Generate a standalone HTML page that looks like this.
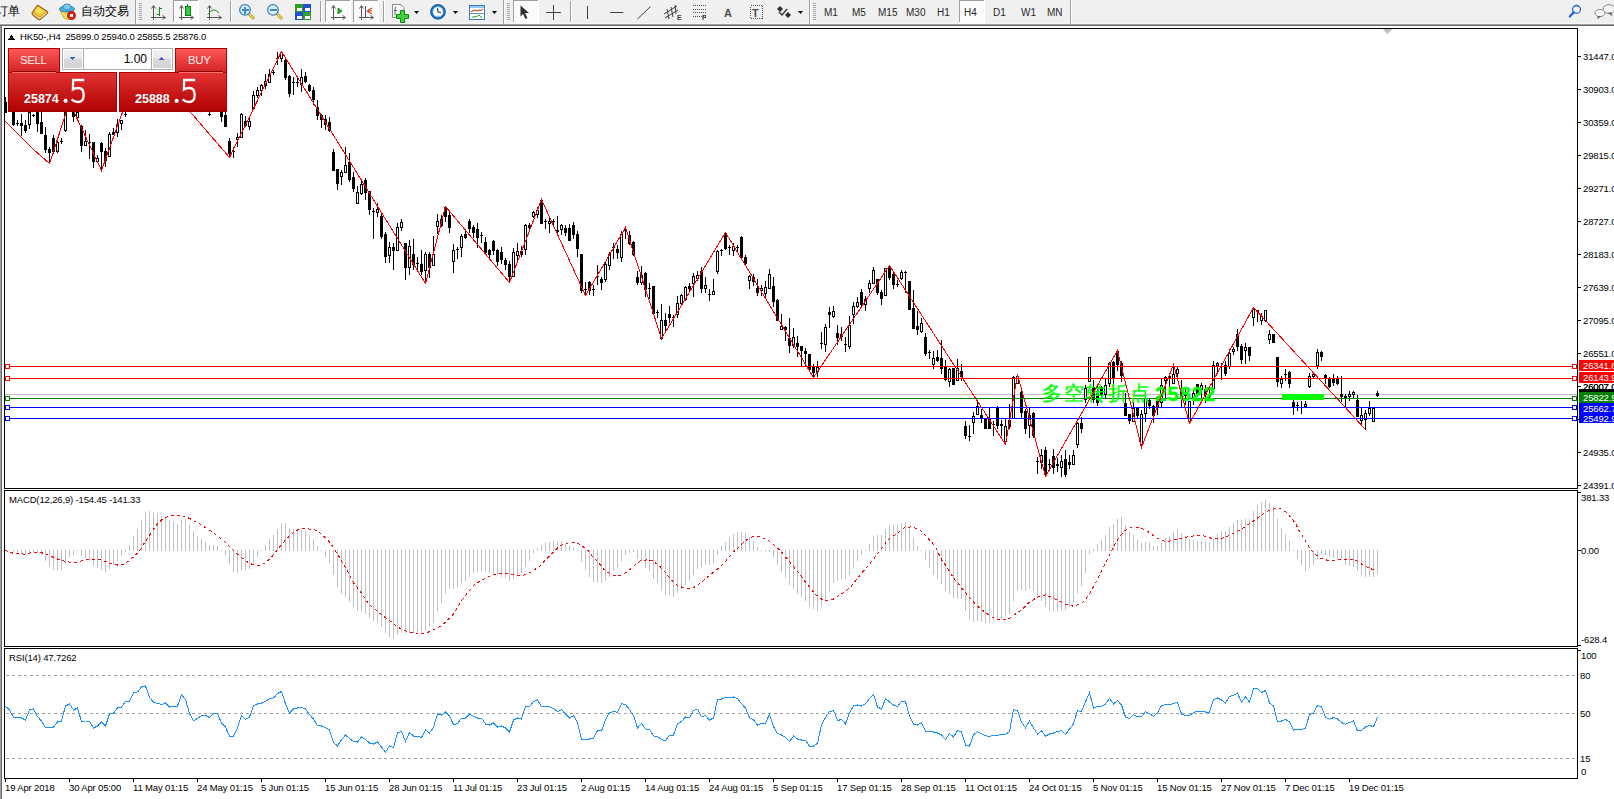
<!DOCTYPE html><html><head><meta charset="utf-8"><style>
html,body{margin:0;padding:0;width:1614px;height:799px;overflow:hidden;background:#fff}
svg{position:absolute;left:0;top:0}
text{font-family:"Liberation Sans",sans-serif}
.tb path,.tb circle,.tb ellipse,.tb line,.tb polygon{shape-rendering:auto}
</style></head><body>
<svg width="1614" height="799" viewBox="0 0 1614 799" shape-rendering="crispEdges">
<g class="tb">
<rect x="0" y="0" width="1614" height="24" fill="#f0f0f0"/>
<rect x="0" y="23" width="1614" height="1" fill="#f7f7f7"/>
<rect x="0" y="24" width="1614" height="1" fill="#a0a0a0"/>
<rect x="0" y="25" width="1614" height="1" fill="#696969"/>
<text x="-4.5" y="15" font-size="12" fill="#000" text-anchor="start">订单</text>
<path d="M37.5,5 L47.5,11.5 L47.8,13.2 L40,19.8 L38.5,19.8 L32,14.5 L32.2,12.6 Z" fill="#c88a18" stroke="#8a5008" stroke-width="0.9"/><path d="M37.6,6.2 L46.2,11.8 L39.6,16.8 L33.4,12.4 Z" fill="#f0c830"/><path d="M38,7 L44,11 L39.6,14 L35,11 Z" fill="#f8e060"/><path d="M33,13.6 L39.6,18.3 L46.8,12.6" fill="none" stroke="#f4e2a8" stroke-width="1.1"/>
<g transform="translate(59,4)"><path d="M1,7 L15,7 L9,16 L5,14 Z" fill="#f0e060" stroke="#c8a020" stroke-width="0.8"/><ellipse cx="8" cy="5" rx="7.5" ry="3" fill="#5ab0e0" stroke="#2a80b0" stroke-width="1"/><ellipse cx="8" cy="3" rx="4" ry="3" fill="#78c8f0" stroke="#2a80b0" stroke-width="0.8"/><circle cx="12.5" cy="11.5" r="4.2" fill="#e02010" stroke="#a01008" stroke-width="0.6"/><rect x="10.8" y="9.8" width="3.4" height="3.4" fill="#fff"/></g>
<text x="81" y="15" font-size="11.7" fill="#000" text-anchor="start">自动交易</text>
<rect x="135" y="0" width="1" height="24" fill="#a0a0a0"/>
<rect x="136" y="0" width="1" height="24" fill="#ffffff"/>
<rect x="139" y="3" width="3" height="1" fill="#a8a8a8"/>
<rect x="139" y="5" width="3" height="1" fill="#a8a8a8"/>
<rect x="139" y="7" width="3" height="1" fill="#a8a8a8"/>
<rect x="139" y="9" width="3" height="1" fill="#a8a8a8"/>
<rect x="139" y="11" width="3" height="1" fill="#a8a8a8"/>
<rect x="139" y="13" width="3" height="1" fill="#a8a8a8"/>
<rect x="139" y="15" width="3" height="1" fill="#a8a8a8"/>
<rect x="139" y="17" width="3" height="1" fill="#a8a8a8"/>
<rect x="139" y="19" width="3" height="1" fill="#a8a8a8"/>
<rect x="153" y="6" width="1" height="14" fill="#555"/>
<rect x="151" y="17" width="14" height="1" fill="#555"/>
<path d="M151.5,8.5 L153.5,5.5 L155.5,8.5" fill="none" stroke="#555" stroke-width="1"/>
<path d="M162.5,15.5 L165.5,17.5 L162.5,19.5" fill="none" stroke="#555" stroke-width="1"/>
<rect x="159" y="7" width="1" height="9" fill="#109010"/>
<rect x="157" y="14" width="2" height="1" fill="#109010"/>
<rect x="160" y="8" width="2" height="1" fill="#109010"/>
<rect x="173" y="0" width="25" height="22" fill="url(#chk)"/>
<rect x="173" y="0" width="25" height="1" fill="#a0a0a0"/>
<rect x="173" y="0" width="1" height="22" fill="#a0a0a0"/>
<rect x="198" y="0" width="1" height="23" fill="#ffffff"/>
<rect x="173" y="22" width="26" height="1" fill="#ffffff"/>
<rect x="181" y="6" width="1" height="14" fill="#555"/>
<rect x="179" y="17" width="14" height="1" fill="#555"/>
<path d="M179.5,8.5 L181.5,5.5 L183.5,8.5" fill="none" stroke="#555" stroke-width="1"/>
<path d="M190.5,15.5 L193.5,17.5 L190.5,19.5" fill="none" stroke="#555" stroke-width="1"/>
<rect x="187" y="4" width="1" height="12" fill="#108010"/>
<rect x="185" y="6" width="5" height="9" fill="#30d040" stroke="#108010" stroke-width="1"/>
<rect x="209" y="6" width="1" height="14" fill="#555"/>
<rect x="207" y="17" width="14" height="1" fill="#555"/>
<path d="M207.5,8.5 L209.5,5.5 L211.5,8.5" fill="none" stroke="#555" stroke-width="1"/>
<path d="M218.5,15.5 L221.5,17.5 L218.5,19.5" fill="none" stroke="#555" stroke-width="1"/>
<path d="M208,14.5 Q213,6 219,13" fill="none" stroke="#209020" stroke-width="1"/>
<rect x="230" y="1" width="1" height="21" fill="#a0a0a0"/>
<rect x="231" y="1" width="1" height="21" fill="#ffffff"/>
<line x1="248.5" y1="13.5" x2="254" y2="19" stroke="#c09010" stroke-width="3"/><line x1="248.5" y1="13.5" x2="254" y2="19" stroke="#f0d850" stroke-width="1.5"/>
<circle cx="245" cy="9.9" r="5.3" fill="#d8f0ff" stroke="#3a80c8" stroke-width="1.3"/>
<rect x="242" y="9" width="7" height="2" fill="#4a88b8"/>
<rect x="244" y="6.5" width="2" height="7" fill="#4a88b8"/>
<line x1="276.5" y1="13.5" x2="282" y2="19" stroke="#c09010" stroke-width="3"/><line x1="276.5" y1="13.5" x2="282" y2="19" stroke="#f0d850" stroke-width="1.5"/>
<circle cx="273" cy="9.9" r="5.3" fill="#d8f0ff" stroke="#3a80c8" stroke-width="1.3"/>
<rect x="270" y="9" width="7" height="2" fill="#4a88b8"/>
<g transform="translate(295,4)"><rect x="0" y="0" width="8" height="8" fill="#30a020"/><rect x="8" y="0" width="8" height="8" fill="#2050d0"/><rect x="0" y="8" width="8" height="8" fill="#2050d0"/><rect x="8" y="8" width="8" height="8" fill="#30a020"/><rect x="1.5" y="3.5" width="5" height="3.5" fill="#fff"/><rect x="9.5" y="3.5" width="5" height="3.5" fill="#fff"/><rect x="1.5" y="11.5" width="5" height="3.5" fill="#fff"/><rect x="9.5" y="11.5" width="5" height="3.5" fill="#fff"/></g>
<rect x="320" y="1" width="1" height="21" fill="#a0a0a0"/>
<rect x="321" y="1" width="1" height="21" fill="#ffffff"/>
<rect x="325" y="0" width="25" height="22" fill="url(#chk)"/>
<rect x="325" y="0" width="25" height="1" fill="#a0a0a0"/>
<rect x="325" y="0" width="1" height="22" fill="#a0a0a0"/>
<rect x="350" y="0" width="1" height="23" fill="#ffffff"/>
<rect x="325" y="22" width="26" height="1" fill="#ffffff"/>
<rect x="333" y="6" width="1" height="14" fill="#555"/>
<rect x="331" y="17" width="14" height="1" fill="#555"/>
<path d="M331.5,8.5 L333.5,5.5 L335.5,8.5" fill="none" stroke="#555" stroke-width="1"/>
<path d="M342.5,15.5 L345.5,17.5 L342.5,19.5" fill="none" stroke="#555" stroke-width="1"/>
<path d="M338,8 L342,11 L338,14 Z" fill="#20b030" stroke="#108010" stroke-width="0.8"/>
<rect x="353" y="0" width="25" height="22" fill="url(#chk)"/>
<rect x="353" y="0" width="25" height="1" fill="#a0a0a0"/>
<rect x="353" y="0" width="1" height="22" fill="#a0a0a0"/>
<rect x="378" y="0" width="1" height="23" fill="#ffffff"/>
<rect x="353" y="22" width="26" height="1" fill="#ffffff"/>
<rect x="361" y="6" width="1" height="14" fill="#555"/>
<rect x="359" y="17" width="14" height="1" fill="#555"/>
<path d="M359.5,8.5 L361.5,5.5 L363.5,8.5" fill="none" stroke="#555" stroke-width="1"/>
<path d="M370.5,15.5 L373.5,17.5 L370.5,19.5" fill="none" stroke="#555" stroke-width="1"/>
<rect x="365" y="6" width="1" height="11" fill="#2060a0"/>
<path d="M367,11 L372,8 M367,11 L372,14 M367,11 L372,11" stroke="#e04010" stroke-width="1.2"/>
<rect x="383" y="1" width="1" height="21" fill="#a0a0a0"/>
<rect x="384" y="1" width="1" height="21" fill="#ffffff"/>
<g transform="translate(392,4)"><path d="M0.5,0.5 L9,0.5 L12,3.5 L12,13.5 L0.5,13.5 Z" fill="#fbfbfb" stroke="#8a8a8a" stroke-width="1"/><path d="M4.5,3 Q3,3 3,5 L3,11 M2,6.5 L5,6.5" stroke="#505050" stroke-width="0.9" fill="none"/><path d="M8.5,6.5 L12.5,6.5 L12.5,10.5 L16.5,10.5 L16.5,14.5 L12.5,14.5 L12.5,18.5 L8.5,18.5 L8.5,14.5 L4.5,14.5 L4.5,10.5 L8.5,10.5 Z" fill="#40d040" stroke="#108810" stroke-width="1"/></g>
<path d="M414,11 L419,11 L416.5,14 Z" fill="#000"/>
<circle cx="438" cy="11.8" r="7.4" fill="#1a6fd0"/><circle cx="438" cy="11.8" r="7.4" fill="none" stroke="#0a4a98" stroke-width="0.8"/><circle cx="438" cy="11.8" r="5.2" fill="#f6f8fc" stroke="#7ab0e8" stroke-width="0.6"/><path d="M437.5,8 L438,12 L441,12.5" stroke="#303030" stroke-width="1.1" fill="none"/><circle cx="438" cy="16" r="0.6" fill="#4a90e0"/>
<path d="M453,11 L458,11 L455.5,14 Z" fill="#000"/>
<g transform="translate(469,5)"><rect x="0.5" y="0.5" width="15" height="14" fill="#fff" stroke="#3a78c8" stroke-width="1"/><rect x="1" y="1" width="14" height="2" fill="#9cc4f0"/><line x1="1" y1="8.5" x2="15" y2="8.5" stroke="#3a78c8" stroke-width="0.8"/><path d="M2,6.5 L4,6 L6,5 L8,6 L10,5 L12,5.5 L14,4" stroke="#b02808" fill="none" stroke-width="1"/><path d="M3,12.5 L5,11.5 L7,12 L10,10 L13,12.5" stroke="#20a020" fill="none" stroke-width="1"/></g>
<path d="M492,11 L497,11 L494.5,14 Z" fill="#000"/>
<rect x="503" y="0" width="1" height="24" fill="#a0a0a0"/>
<rect x="504" y="0" width="1" height="24" fill="#ffffff"/>
<rect x="507" y="3" width="3" height="1" fill="#a8a8a8"/>
<rect x="507" y="5" width="3" height="1" fill="#a8a8a8"/>
<rect x="507" y="7" width="3" height="1" fill="#a8a8a8"/>
<rect x="507" y="9" width="3" height="1" fill="#a8a8a8"/>
<rect x="507" y="11" width="3" height="1" fill="#a8a8a8"/>
<rect x="507" y="13" width="3" height="1" fill="#a8a8a8"/>
<rect x="507" y="15" width="3" height="1" fill="#a8a8a8"/>
<rect x="507" y="17" width="3" height="1" fill="#a8a8a8"/>
<rect x="507" y="19" width="3" height="1" fill="#a8a8a8"/>
<rect x="513" y="0" width="25" height="22" fill="url(#chk)"/>
<rect x="513" y="0" width="25" height="1" fill="#a0a0a0"/>
<rect x="513" y="0" width="1" height="22" fill="#a0a0a0"/>
<rect x="538" y="0" width="1" height="23" fill="#ffffff"/>
<rect x="513" y="22" width="26" height="1" fill="#ffffff"/>
<path d="M520.5,5.5 L520.5,16.5 L523,14 L525.5,19 L527.5,18 L525,13 L529,13 Z" fill="#303030"/>
<rect x="553" y="5" width="1" height="15" fill="#404040"/>
<rect x="546" y="12" width="15" height="1" fill="#404040"/>
<rect x="570" y="1" width="1" height="21" fill="#a0a0a0"/>
<rect x="571" y="1" width="1" height="21" fill="#ffffff"/>
<rect x="587" y="6" width="1" height="13" fill="#404040"/>
<rect x="610" y="12" width="13" height="1" fill="#404040"/>
<line x1="637.5" y1="19" x2="650.5" y2="6.5" stroke="#404040" stroke-width="1"/>
<g stroke="#404040" stroke-width="1" fill="none"><line x1="664" y1="14" x2="677" y2="6"/><line x1="665" y1="18" x2="678" y2="10"/><line x1="667" y1="9" x2="669" y2="19"/><line x1="671" y1="7" x2="673" y2="17"/><line x1="675" y1="5" x2="676" y2="14"/></g>
<text x="677" y="20" font-size="7" fill="#404040" text-anchor="start" letter-spacing="-0.15" font-weight="bold">E</text>
<line x1="693" y1="5.5" x2="706" y2="5.5" stroke="#505050" stroke-width="1" stroke-dasharray="1,1"/>
<line x1="693" y1="9.5" x2="706" y2="9.5" stroke="#505050" stroke-width="1" stroke-dasharray="1,1"/>
<line x1="693" y1="12.5" x2="706" y2="12.5" stroke="#505050" stroke-width="1" stroke-dasharray="1,1"/>
<line x1="693" y1="16.5" x2="706" y2="16.5" stroke="#505050" stroke-width="1" stroke-dasharray="1,1"/>
<text x="702" y="20" font-size="7" fill="#404040" text-anchor="start" letter-spacing="-0.15" font-weight="bold">F</text>
<text x="724" y="17" font-size="11" fill="#505050" text-anchor="start" font-weight="bold">A</text>
<rect x="750.5" y="5.5" width="12" height="13" fill="none" stroke="#505050" stroke-width="1" stroke-dasharray="1,1"/>
<text x="752" y="17" font-size="11" fill="#505050" text-anchor="start" font-weight="bold">T</text>
<path d="M777,9 L780,6 L783,9 L780,12 Z" fill="#303030"/><path d="M785,15 L788,12 L791,15 L788,18 Z" fill="#303030"/><path d="M779,12 L782,15 L787,9" stroke="#303030" stroke-width="1.3" fill="none"/>
<path d="M798,11 L803,11 L800.5,14 Z" fill="#000"/>
<rect x="809" y="0" width="1" height="24" fill="#a0a0a0"/>
<rect x="810" y="0" width="1" height="24" fill="#ffffff"/>
<rect x="813" y="3" width="3" height="1" fill="#a8a8a8"/>
<rect x="813" y="5" width="3" height="1" fill="#a8a8a8"/>
<rect x="813" y="7" width="3" height="1" fill="#a8a8a8"/>
<rect x="813" y="9" width="3" height="1" fill="#a8a8a8"/>
<rect x="813" y="11" width="3" height="1" fill="#a8a8a8"/>
<rect x="813" y="13" width="3" height="1" fill="#a8a8a8"/>
<rect x="813" y="15" width="3" height="1" fill="#a8a8a8"/>
<rect x="813" y="17" width="3" height="1" fill="#a8a8a8"/>
<rect x="813" y="19" width="3" height="1" fill="#a8a8a8"/>
<text x="824" y="16" font-size="10" fill="#2a2a2a" text-anchor="start">M1</text>
<text x="852" y="16" font-size="10" fill="#2a2a2a" text-anchor="start">M5</text>
<text x="878" y="16" font-size="10" fill="#2a2a2a" text-anchor="start">M15</text>
<text x="906" y="16" font-size="10" fill="#2a2a2a" text-anchor="start">M30</text>
<text x="937" y="16" font-size="10" fill="#2a2a2a" text-anchor="start">H1</text>
<rect x="959" y="0" width="25" height="22" fill="url(#chk)"/>
<rect x="959" y="0" width="25" height="1" fill="#a0a0a0"/>
<rect x="959" y="0" width="1" height="22" fill="#a0a0a0"/>
<rect x="984" y="0" width="1" height="23" fill="#ffffff"/>
<rect x="959" y="22" width="26" height="1" fill="#ffffff"/>
<text x="964" y="16" font-size="10" fill="#2a2a2a" text-anchor="start">H4</text>
<text x="993" y="16" font-size="10" fill="#2a2a2a" text-anchor="start">D1</text>
<text x="1021" y="16" font-size="10" fill="#2a2a2a" text-anchor="start">W1</text>
<text x="1047" y="16" font-size="10" fill="#2a2a2a" text-anchor="start">MN</text>
<rect x="1070" y="0" width="1" height="24" fill="#a0a0a0"/>
<rect x="1071" y="0" width="1" height="24" fill="#ffffff"/>
<circle cx="1576.5" cy="9.4" r="3.9" fill="#f8f8ff" stroke="#2060d0" stroke-width="1.3"/><line x1="1573.8" y1="12.2" x2="1569.8" y2="16.5" stroke="#2060d0" stroke-width="2.2" stroke-linecap="round"/>
<ellipse cx="1609" cy="9" rx="6" ry="4.3" fill="#f4f4f8" stroke="#8a8a8a" stroke-width="1"/><path d="M1611,12.5 L1612,15.5 L1608,13" fill="#555" stroke="#777" stroke-width="0.8"/><ellipse cx="1600" cy="13" rx="5" ry="3.6" fill="#f4f4f8" stroke="#8a8a8a" stroke-width="1"/><path d="M1598,16 L1597.5,18.5 L1601,16.3" fill="#555" stroke="#777" stroke-width="0.8"/>
</g>
<rect x="0" y="26" width="2" height="799" fill="#a0a0a0"/>
<rect x="1" y="26" width="1" height="799" fill="#696969"/>
<rect x="4" y="28" width="1574" height="1" fill="#000"/>
<rect x="4" y="488" width="1574" height="1" fill="#000"/>
<rect x="4" y="28" width="1" height="461" fill="#000"/>
<rect x="1577" y="28" width="1" height="461" fill="#000"/>
<rect x="4" y="490" width="1574" height="1" fill="#000"/>
<rect x="4" y="646" width="1574" height="1" fill="#000"/>
<rect x="4" y="490" width="1" height="157" fill="#000"/>
<rect x="1577" y="490" width="1" height="157" fill="#000"/>
<rect x="4" y="648" width="1574" height="1" fill="#000"/>
<rect x="4" y="778" width="1574" height="1" fill="#000"/>
<rect x="4" y="648" width="1" height="131" fill="#000"/>
<rect x="1577" y="648" width="1" height="131" fill="#000"/>
<rect x="1578" y="56" width="3" height="1" fill="#000"/>
<text x="1583" y="60" font-size="9.5" fill="#000" text-anchor="start" letter-spacing="-0.15">31447.0</text>
<rect x="1578" y="89" width="3" height="1" fill="#000"/>
<text x="1583" y="93" font-size="9.5" fill="#000" text-anchor="start" letter-spacing="-0.15">30903.0</text>
<rect x="1578" y="122" width="3" height="1" fill="#000"/>
<text x="1583" y="126" font-size="9.5" fill="#000" text-anchor="start" letter-spacing="-0.15">30359.0</text>
<rect x="1578" y="155" width="3" height="1" fill="#000"/>
<text x="1583" y="159" font-size="9.5" fill="#000" text-anchor="start" letter-spacing="-0.15">29815.0</text>
<rect x="1578" y="188" width="3" height="1" fill="#000"/>
<text x="1583" y="192" font-size="9.5" fill="#000" text-anchor="start" letter-spacing="-0.15">29271.0</text>
<rect x="1578" y="221" width="3" height="1" fill="#000"/>
<text x="1583" y="225" font-size="9.5" fill="#000" text-anchor="start" letter-spacing="-0.15">28727.0</text>
<rect x="1578" y="254" width="3" height="1" fill="#000"/>
<text x="1583" y="258" font-size="9.5" fill="#000" text-anchor="start" letter-spacing="-0.15">28183.0</text>
<rect x="1578" y="287" width="3" height="1" fill="#000"/>
<text x="1583" y="291" font-size="9.5" fill="#000" text-anchor="start" letter-spacing="-0.15">27639.0</text>
<rect x="1578" y="320" width="3" height="1" fill="#000"/>
<text x="1583" y="324" font-size="9.5" fill="#000" text-anchor="start" letter-spacing="-0.15">27095.0</text>
<rect x="1578" y="353" width="3" height="1" fill="#000"/>
<text x="1583" y="357" font-size="9.5" fill="#000" text-anchor="start" letter-spacing="-0.15">26551.0</text>
<rect x="1578" y="386" width="3" height="1" fill="#000"/>
<text x="1583" y="390" font-size="9.5" fill="#000" text-anchor="start" letter-spacing="-0.15">26007.0</text>
<rect x="1578" y="419" width="3" height="1" fill="#000"/>
<text x="1583" y="423" font-size="9.5" fill="#000" text-anchor="start" letter-spacing="-0.15">25463.0</text>
<rect x="1578" y="452" width="3" height="1" fill="#000"/>
<text x="1583" y="456" font-size="9.5" fill="#000" text-anchor="start" letter-spacing="-0.15">24935.0</text>
<rect x="1578" y="485" width="3" height="1" fill="#000"/>
<text x="1583" y="489" font-size="9.5" fill="#000" text-anchor="start" letter-spacing="-0.15">24391.0</text>
<rect x="1578" y="492" width="3" height="1" fill="#000"/>
<text x="1581" y="501" font-size="9.5" fill="#000" text-anchor="start" letter-spacing="-0.15">381.33</text>
<rect x="1578" y="550" width="3" height="1" fill="#000"/>
<text x="1581" y="554" font-size="9.5" fill="#000" text-anchor="start" letter-spacing="-0.15">0.00</text>
<rect x="1578" y="645" width="3" height="1" fill="#000"/>
<text x="1581" y="643" font-size="9.5" fill="#000" text-anchor="start" letter-spacing="-0.15">-628.4</text>
<rect x="1578" y="650" width="3" height="1" fill="#000"/>
<text x="1581" y="659" font-size="9.5" fill="#000" text-anchor="start" letter-spacing="-0.15">100</text>
<text x="1580" y="679" font-size="9.5" fill="#000" text-anchor="start" letter-spacing="-0.15">80</text>
<text x="1580" y="717" font-size="9.5" fill="#000" text-anchor="start" letter-spacing="-0.15">50</text>
<text x="1580" y="762" font-size="9.5" fill="#000" text-anchor="start" letter-spacing="-0.15">15</text>
<text x="1581" y="775" font-size="9.5" fill="#000" text-anchor="start" letter-spacing="-0.15">0</text>
<rect x="5" y="779" width="1" height="3" fill="#000"/>
<text x="5" y="791" font-size="9.5" fill="#000" text-anchor="start" letter-spacing="-0.15">19 Apr 2018</text>
<rect x="69" y="779" width="1" height="3" fill="#000"/>
<text x="69" y="791" font-size="9.5" fill="#000" text-anchor="start" letter-spacing="-0.15">30 Apr 05:00</text>
<rect x="133" y="779" width="1" height="3" fill="#000"/>
<text x="133" y="791" font-size="9.5" fill="#000" text-anchor="start" letter-spacing="-0.15">11 May 01:15</text>
<rect x="197" y="779" width="1" height="3" fill="#000"/>
<text x="197" y="791" font-size="9.5" fill="#000" text-anchor="start" letter-spacing="-0.15">24 May 01:15</text>
<rect x="261" y="779" width="1" height="3" fill="#000"/>
<text x="261" y="791" font-size="9.5" fill="#000" text-anchor="start" letter-spacing="-0.15">5 Jun 01:15</text>
<rect x="325" y="779" width="1" height="3" fill="#000"/>
<text x="325" y="791" font-size="9.5" fill="#000" text-anchor="start" letter-spacing="-0.15">15 Jun 01:15</text>
<rect x="389" y="779" width="1" height="3" fill="#000"/>
<text x="389" y="791" font-size="9.5" fill="#000" text-anchor="start" letter-spacing="-0.15">28 Jun 01:15</text>
<rect x="453" y="779" width="1" height="3" fill="#000"/>
<text x="453" y="791" font-size="9.5" fill="#000" text-anchor="start" letter-spacing="-0.15">11 Jul 01:15</text>
<rect x="517" y="779" width="1" height="3" fill="#000"/>
<text x="517" y="791" font-size="9.5" fill="#000" text-anchor="start" letter-spacing="-0.15">23 Jul 01:15</text>
<rect x="581" y="779" width="1" height="3" fill="#000"/>
<text x="581" y="791" font-size="9.5" fill="#000" text-anchor="start" letter-spacing="-0.15">2 Aug 01:15</text>
<rect x="645" y="779" width="1" height="3" fill="#000"/>
<text x="645" y="791" font-size="9.5" fill="#000" text-anchor="start" letter-spacing="-0.15">14 Aug 01:15</text>
<rect x="709" y="779" width="1" height="3" fill="#000"/>
<text x="709" y="791" font-size="9.5" fill="#000" text-anchor="start" letter-spacing="-0.15">24 Aug 01:15</text>
<rect x="773" y="779" width="1" height="3" fill="#000"/>
<text x="773" y="791" font-size="9.5" fill="#000" text-anchor="start" letter-spacing="-0.15">5 Sep 01:15</text>
<rect x="837" y="779" width="1" height="3" fill="#000"/>
<text x="837" y="791" font-size="9.5" fill="#000" text-anchor="start" letter-spacing="-0.15">17 Sep 01:15</text>
<rect x="901" y="779" width="1" height="3" fill="#000"/>
<text x="901" y="791" font-size="9.5" fill="#000" text-anchor="start" letter-spacing="-0.15">28 Sep 01:15</text>
<rect x="965" y="779" width="1" height="3" fill="#000"/>
<text x="965" y="791" font-size="9.5" fill="#000" text-anchor="start" letter-spacing="-0.15">11 Oct 01:15</text>
<rect x="1029" y="779" width="1" height="3" fill="#000"/>
<text x="1029" y="791" font-size="9.5" fill="#000" text-anchor="start" letter-spacing="-0.15">24 Oct 01:15</text>
<rect x="1093" y="779" width="1" height="3" fill="#000"/>
<text x="1093" y="791" font-size="9.5" fill="#000" text-anchor="start" letter-spacing="-0.15">5 Nov 01:15</text>
<rect x="1157" y="779" width="1" height="3" fill="#000"/>
<text x="1157" y="791" font-size="9.5" fill="#000" text-anchor="start" letter-spacing="-0.15">15 Nov 01:15</text>
<rect x="1221" y="779" width="1" height="3" fill="#000"/>
<text x="1221" y="791" font-size="9.5" fill="#000" text-anchor="start" letter-spacing="-0.15">27 Nov 01:15</text>
<rect x="1285" y="779" width="1" height="3" fill="#000"/>
<text x="1285" y="791" font-size="9.5" fill="#000" text-anchor="start" letter-spacing="-0.15">7 Dec 01:15</text>
<rect x="1349" y="779" width="1" height="3" fill="#000"/>
<text x="1349" y="791" font-size="9.5" fill="#000" text-anchor="start" letter-spacing="-0.15">19 Dec 01:15</text>
<svg x="5" y="29" width="1572" height="459" viewBox="5 29 1572 459" overflow="hidden">
<rect x="5" y="394" width="1572" height="1" fill="#c0c0c0"/>
<rect x="5" y="97" width="1" height="16" fill="#000"/>
<rect x="4" y="102" width="3" height="11" fill="#000"/>
<rect x="13" y="112" width="1" height="14" fill="#000"/>
<rect x="12" y="112" width="3" height="13" fill="#000"/>
<rect x="17" y="120" width="1" height="6" fill="#000"/>
<rect x="16" y="123" width="3" height="1" fill="#000"/>
<rect x="21" y="114" width="1" height="22" fill="#000"/>
<rect x="20" y="123" width="3" height="3" fill="#000"/>
<rect x="25" y="120" width="1" height="13" fill="#000"/>
<rect x="24" y="125" width="3" height="6" fill="#000"/>
<rect x="29" y="112" width="1" height="17" fill="#000"/>
<rect x="28" y="112" width="3" height="13" fill="#000"/>
<rect x="29" y="113" width="1" height="11" fill="#fff"/>
<rect x="33" y="114" width="1" height="3" fill="#000"/>
<rect x="32" y="115" width="3" height="1" fill="#000"/>
<rect x="37" y="112" width="1" height="20" fill="#000"/>
<rect x="36" y="112" width="3" height="12" fill="#000"/>
<rect x="41" y="112" width="1" height="22" fill="#000"/>
<rect x="40" y="122" width="3" height="12" fill="#000"/>
<rect x="45" y="127" width="1" height="26" fill="#000"/>
<rect x="44" y="135" width="3" height="15" fill="#000"/>
<rect x="49" y="147" width="1" height="17" fill="#000"/>
<rect x="48" y="149" width="3" height="4" fill="#000"/>
<rect x="53" y="135" width="1" height="19" fill="#000"/>
<rect x="52" y="138" width="3" height="14" fill="#000"/>
<rect x="57" y="140" width="1" height="13" fill="#000"/>
<rect x="56" y="142" width="3" height="10" fill="#000"/>
<rect x="57" y="143" width="1" height="8" fill="#fff"/>
<rect x="61" y="138" width="1" height="6" fill="#000"/>
<rect x="60" y="141" width="3" height="1" fill="#000"/>
<rect x="65" y="112" width="1" height="20" fill="#000"/>
<rect x="64" y="112" width="3" height="19" fill="#000"/>
<rect x="65" y="113" width="1" height="17" fill="#fff"/>
<rect x="73" y="112" width="1" height="10" fill="#000"/>
<rect x="72" y="112" width="3" height="5" fill="#000"/>
<rect x="77" y="112" width="1" height="7" fill="#000"/>
<rect x="76" y="112" width="3" height="6" fill="#000"/>
<rect x="77" y="113" width="1" height="4" fill="#fff"/>
<rect x="81" y="125" width="1" height="27" fill="#000"/>
<rect x="80" y="126" width="3" height="20" fill="#000"/>
<rect x="85" y="130" width="1" height="16" fill="#000"/>
<rect x="84" y="141" width="3" height="5" fill="#000"/>
<rect x="85" y="142" width="1" height="3" fill="#fff"/>
<rect x="89" y="134" width="1" height="25" fill="#000"/>
<rect x="88" y="142" width="3" height="1" fill="#000"/>
<rect x="93" y="142" width="1" height="26" fill="#000"/>
<rect x="92" y="142" width="3" height="20" fill="#000"/>
<rect x="97" y="155" width="1" height="7" fill="#000"/>
<rect x="96" y="158" width="3" height="4" fill="#000"/>
<rect x="97" y="159" width="1" height="2" fill="#fff"/>
<rect x="101" y="142" width="1" height="29" fill="#000"/>
<rect x="100" y="143" width="3" height="9" fill="#000"/>
<rect x="105" y="148" width="1" height="19" fill="#000"/>
<rect x="104" y="151" width="3" height="10" fill="#000"/>
<rect x="109" y="132" width="1" height="25" fill="#000"/>
<rect x="108" y="134" width="3" height="23" fill="#000"/>
<rect x="109" y="135" width="1" height="21" fill="#fff"/>
<rect x="113" y="128" width="1" height="7" fill="#000"/>
<rect x="112" y="132" width="3" height="3" fill="#000"/>
<rect x="117" y="119" width="1" height="18" fill="#000"/>
<rect x="116" y="124" width="3" height="9" fill="#000"/>
<rect x="117" y="125" width="1" height="7" fill="#fff"/>
<rect x="121" y="120" width="1" height="10" fill="#000"/>
<rect x="120" y="120" width="3" height="4" fill="#000"/>
<rect x="121" y="121" width="1" height="2" fill="#fff"/>
<rect x="125" y="112" width="1" height="5" fill="#000"/>
<rect x="124" y="114" width="3" height="1" fill="#000"/>
<rect x="209" y="112" width="1" height="4" fill="#000"/>
<rect x="208" y="114" width="3" height="1" fill="#000"/>
<rect x="221" y="112" width="1" height="10" fill="#000"/>
<rect x="220" y="112" width="3" height="5" fill="#000"/>
<rect x="225" y="112" width="1" height="15" fill="#000"/>
<rect x="224" y="115" width="3" height="12" fill="#000"/>
<rect x="229" y="138" width="1" height="20" fill="#000"/>
<rect x="228" y="141" width="3" height="13" fill="#000"/>
<rect x="233" y="147" width="1" height="11" fill="#000"/>
<rect x="232" y="151" width="3" height="1" fill="#000"/>
<rect x="237" y="133" width="1" height="14" fill="#000"/>
<rect x="236" y="137" width="3" height="3" fill="#000"/>
<rect x="237" y="138" width="1" height="1" fill="#fff"/>
<rect x="241" y="113" width="1" height="25" fill="#000"/>
<rect x="240" y="114" width="3" height="24" fill="#000"/>
<rect x="241" y="115" width="1" height="22" fill="#fff"/>
<rect x="245" y="116" width="1" height="11" fill="#000"/>
<rect x="244" y="121" width="3" height="5" fill="#000"/>
<rect x="249" y="117" width="1" height="13" fill="#000"/>
<rect x="248" y="121" width="3" height="6" fill="#000"/>
<rect x="249" y="122" width="1" height="4" fill="#fff"/>
<rect x="253" y="91" width="1" height="18" fill="#000"/>
<rect x="252" y="95" width="3" height="14" fill="#000"/>
<rect x="253" y="96" width="1" height="12" fill="#fff"/>
<rect x="257" y="87" width="1" height="11" fill="#000"/>
<rect x="256" y="90" width="3" height="6" fill="#000"/>
<rect x="257" y="91" width="1" height="4" fill="#fff"/>
<rect x="261" y="84" width="1" height="12" fill="#000"/>
<rect x="260" y="85" width="3" height="6" fill="#000"/>
<rect x="261" y="86" width="1" height="4" fill="#fff"/>
<rect x="265" y="74" width="1" height="15" fill="#000"/>
<rect x="264" y="81" width="3" height="5" fill="#000"/>
<rect x="265" y="82" width="1" height="3" fill="#fff"/>
<rect x="269" y="69" width="1" height="14" fill="#000"/>
<rect x="268" y="74" width="3" height="9" fill="#000"/>
<rect x="269" y="75" width="1" height="7" fill="#fff"/>
<rect x="273" y="70" width="1" height="5" fill="#000"/>
<rect x="272" y="72" width="3" height="1" fill="#000"/>
<rect x="277" y="52" width="1" height="13" fill="#000"/>
<rect x="276" y="58" width="3" height="1" fill="#000"/>
<rect x="281" y="51" width="1" height="11" fill="#000"/>
<rect x="280" y="52" width="3" height="7" fill="#000"/>
<rect x="281" y="53" width="1" height="5" fill="#fff"/>
<rect x="285" y="59" width="1" height="21" fill="#000"/>
<rect x="284" y="60" width="3" height="18" fill="#000"/>
<rect x="289" y="75" width="1" height="22" fill="#000"/>
<rect x="288" y="76" width="3" height="18" fill="#000"/>
<rect x="293" y="77" width="1" height="18" fill="#000"/>
<rect x="292" y="82" width="3" height="1" fill="#000"/>
<rect x="297" y="78" width="1" height="9" fill="#000"/>
<rect x="296" y="82" width="3" height="1" fill="#000"/>
<rect x="301" y="69" width="1" height="23" fill="#000"/>
<rect x="300" y="77" width="3" height="8" fill="#000"/>
<rect x="301" y="78" width="1" height="6" fill="#fff"/>
<rect x="305" y="72" width="1" height="11" fill="#000"/>
<rect x="304" y="76" width="3" height="6" fill="#000"/>
<rect x="309" y="84" width="1" height="8" fill="#000"/>
<rect x="308" y="85" width="3" height="6" fill="#000"/>
<rect x="313" y="87" width="1" height="18" fill="#000"/>
<rect x="312" y="90" width="3" height="10" fill="#000"/>
<rect x="317" y="100" width="1" height="20" fill="#000"/>
<rect x="316" y="107" width="3" height="9" fill="#000"/>
<rect x="321" y="114" width="1" height="14" fill="#000"/>
<rect x="320" y="115" width="3" height="5" fill="#000"/>
<rect x="325" y="115" width="1" height="15" fill="#000"/>
<rect x="324" y="119" width="3" height="6" fill="#000"/>
<rect x="329" y="117" width="1" height="15" fill="#000"/>
<rect x="328" y="122" width="3" height="9" fill="#000"/>
<rect x="333" y="149" width="1" height="22" fill="#000"/>
<rect x="332" y="152" width="3" height="19" fill="#000"/>
<rect x="337" y="169" width="1" height="21" fill="#000"/>
<rect x="336" y="169" width="3" height="15" fill="#000"/>
<rect x="341" y="170" width="1" height="15" fill="#000"/>
<rect x="340" y="172" width="3" height="5" fill="#000"/>
<rect x="341" y="173" width="1" height="3" fill="#fff"/>
<rect x="345" y="147" width="1" height="26" fill="#000"/>
<rect x="344" y="165" width="3" height="8" fill="#000"/>
<rect x="345" y="166" width="1" height="6" fill="#fff"/>
<rect x="349" y="153" width="1" height="29" fill="#000"/>
<rect x="348" y="162" width="3" height="18" fill="#000"/>
<rect x="353" y="172" width="1" height="20" fill="#000"/>
<rect x="352" y="177" width="3" height="12" fill="#000"/>
<rect x="357" y="186" width="1" height="18" fill="#000"/>
<rect x="356" y="192" width="3" height="12" fill="#000"/>
<rect x="357" y="193" width="1" height="10" fill="#fff"/>
<rect x="361" y="180" width="1" height="15" fill="#000"/>
<rect x="360" y="184" width="3" height="10" fill="#000"/>
<rect x="361" y="185" width="1" height="8" fill="#fff"/>
<rect x="365" y="178" width="1" height="22" fill="#000"/>
<rect x="364" y="180" width="3" height="13" fill="#000"/>
<rect x="369" y="191" width="1" height="24" fill="#000"/>
<rect x="368" y="191" width="3" height="19" fill="#000"/>
<rect x="373" y="208" width="1" height="31" fill="#000"/>
<rect x="372" y="211" width="3" height="1" fill="#000"/>
<rect x="377" y="203" width="1" height="14" fill="#000"/>
<rect x="376" y="209" width="3" height="4" fill="#000"/>
<rect x="377" y="210" width="1" height="2" fill="#fff"/>
<rect x="381" y="213" width="1" height="26" fill="#000"/>
<rect x="380" y="216" width="3" height="21" fill="#000"/>
<rect x="385" y="232" width="1" height="31" fill="#000"/>
<rect x="384" y="234" width="3" height="23" fill="#000"/>
<rect x="389" y="242" width="1" height="21" fill="#000"/>
<rect x="388" y="247" width="3" height="9" fill="#000"/>
<rect x="389" y="248" width="1" height="7" fill="#fff"/>
<rect x="393" y="243" width="1" height="27" fill="#000"/>
<rect x="392" y="247" width="3" height="4" fill="#000"/>
<rect x="397" y="223" width="1" height="28" fill="#000"/>
<rect x="396" y="227" width="3" height="24" fill="#000"/>
<rect x="397" y="228" width="1" height="22" fill="#fff"/>
<rect x="401" y="219" width="1" height="12" fill="#000"/>
<rect x="400" y="222" width="3" height="6" fill="#000"/>
<rect x="401" y="223" width="1" height="4" fill="#fff"/>
<rect x="405" y="243" width="1" height="37" fill="#000"/>
<rect x="404" y="243" width="3" height="25" fill="#000"/>
<rect x="409" y="240" width="1" height="35" fill="#000"/>
<rect x="408" y="246" width="3" height="22" fill="#000"/>
<rect x="409" y="247" width="1" height="20" fill="#fff"/>
<rect x="413" y="239" width="1" height="31" fill="#000"/>
<rect x="412" y="254" width="3" height="11" fill="#000"/>
<rect x="417" y="257" width="1" height="13" fill="#000"/>
<rect x="416" y="263" width="3" height="1" fill="#000"/>
<rect x="421" y="250" width="1" height="25" fill="#000"/>
<rect x="420" y="264" width="3" height="8" fill="#000"/>
<rect x="425" y="252" width="1" height="32" fill="#000"/>
<rect x="424" y="254" width="3" height="17" fill="#000"/>
<rect x="425" y="255" width="1" height="15" fill="#fff"/>
<rect x="429" y="252" width="1" height="26" fill="#000"/>
<rect x="428" y="254" width="3" height="14" fill="#000"/>
<rect x="433" y="236" width="1" height="30" fill="#000"/>
<rect x="432" y="254" width="3" height="12" fill="#000"/>
<rect x="433" y="255" width="1" height="10" fill="#fff"/>
<rect x="437" y="214" width="1" height="20" fill="#000"/>
<rect x="436" y="221" width="3" height="6" fill="#000"/>
<rect x="437" y="222" width="1" height="4" fill="#fff"/>
<rect x="441" y="215" width="1" height="12" fill="#000"/>
<rect x="440" y="219" width="3" height="7" fill="#000"/>
<rect x="445" y="206" width="1" height="16" fill="#000"/>
<rect x="444" y="207" width="3" height="10" fill="#000"/>
<rect x="449" y="212" width="1" height="21" fill="#000"/>
<rect x="448" y="215" width="3" height="13" fill="#000"/>
<rect x="453" y="244" width="1" height="29" fill="#000"/>
<rect x="452" y="250" width="3" height="12" fill="#000"/>
<rect x="453" y="251" width="1" height="10" fill="#fff"/>
<rect x="457" y="247" width="1" height="12" fill="#000"/>
<rect x="456" y="249" width="3" height="1" fill="#000"/>
<rect x="461" y="234" width="1" height="23" fill="#000"/>
<rect x="460" y="236" width="3" height="12" fill="#000"/>
<rect x="461" y="237" width="1" height="10" fill="#fff"/>
<rect x="465" y="229" width="1" height="10" fill="#000"/>
<rect x="464" y="234" width="3" height="4" fill="#000"/>
<rect x="469" y="219" width="1" height="14" fill="#000"/>
<rect x="468" y="221" width="3" height="8" fill="#000"/>
<rect x="473" y="225" width="1" height="13" fill="#000"/>
<rect x="472" y="227" width="3" height="6" fill="#000"/>
<rect x="477" y="223" width="1" height="25" fill="#000"/>
<rect x="476" y="229" width="3" height="9" fill="#000"/>
<rect x="481" y="232" width="1" height="11" fill="#000"/>
<rect x="480" y="235" width="3" height="1" fill="#000"/>
<rect x="485" y="237" width="1" height="18" fill="#000"/>
<rect x="484" y="242" width="3" height="11" fill="#000"/>
<rect x="489" y="249" width="1" height="9" fill="#000"/>
<rect x="488" y="250" width="3" height="5" fill="#000"/>
<rect x="493" y="240" width="1" height="15" fill="#000"/>
<rect x="492" y="241" width="3" height="10" fill="#000"/>
<rect x="497" y="249" width="1" height="17" fill="#000"/>
<rect x="496" y="250" width="3" height="12" fill="#000"/>
<rect x="501" y="247" width="1" height="17" fill="#000"/>
<rect x="500" y="252" width="3" height="8" fill="#000"/>
<rect x="505" y="258" width="1" height="12" fill="#000"/>
<rect x="504" y="260" width="3" height="5" fill="#000"/>
<rect x="509" y="261" width="1" height="22" fill="#000"/>
<rect x="508" y="264" width="3" height="13" fill="#000"/>
<rect x="513" y="248" width="1" height="29" fill="#000"/>
<rect x="512" y="252" width="3" height="25" fill="#000"/>
<rect x="513" y="253" width="1" height="23" fill="#fff"/>
<rect x="517" y="243" width="1" height="17" fill="#000"/>
<rect x="516" y="251" width="3" height="5" fill="#000"/>
<rect x="517" y="252" width="1" height="3" fill="#fff"/>
<rect x="521" y="246" width="1" height="11" fill="#000"/>
<rect x="520" y="251" width="3" height="4" fill="#000"/>
<rect x="525" y="224" width="1" height="31" fill="#000"/>
<rect x="524" y="225" width="3" height="25" fill="#000"/>
<rect x="525" y="226" width="1" height="23" fill="#fff"/>
<rect x="529" y="223" width="1" height="6" fill="#000"/>
<rect x="528" y="225" width="3" height="3" fill="#000"/>
<rect x="533" y="211" width="1" height="7" fill="#000"/>
<rect x="532" y="212" width="3" height="5" fill="#000"/>
<rect x="533" y="213" width="1" height="3" fill="#fff"/>
<rect x="537" y="207" width="1" height="11" fill="#000"/>
<rect x="536" y="210" width="3" height="5" fill="#000"/>
<rect x="537" y="211" width="1" height="3" fill="#fff"/>
<rect x="541" y="199" width="1" height="25" fill="#000"/>
<rect x="540" y="200" width="3" height="24" fill="#000"/>
<rect x="545" y="219" width="1" height="10" fill="#000"/>
<rect x="544" y="221" width="3" height="1" fill="#000"/>
<rect x="549" y="217" width="1" height="16" fill="#000"/>
<rect x="548" y="221" width="3" height="3" fill="#000"/>
<rect x="549" y="222" width="1" height="1" fill="#fff"/>
<rect x="553" y="219" width="1" height="6" fill="#000"/>
<rect x="552" y="221" width="3" height="1" fill="#000"/>
<rect x="557" y="216" width="1" height="17" fill="#000"/>
<rect x="556" y="230" width="3" height="2" fill="#000"/>
<rect x="561" y="224" width="1" height="11" fill="#000"/>
<rect x="560" y="225" width="3" height="5" fill="#000"/>
<rect x="561" y="226" width="1" height="3" fill="#fff"/>
<rect x="565" y="225" width="1" height="11" fill="#000"/>
<rect x="564" y="228" width="3" height="5" fill="#000"/>
<rect x="569" y="224" width="1" height="17" fill="#000"/>
<rect x="568" y="228" width="3" height="13" fill="#000"/>
<rect x="573" y="222" width="1" height="17" fill="#000"/>
<rect x="572" y="225" width="3" height="10" fill="#000"/>
<rect x="577" y="231" width="1" height="26" fill="#000"/>
<rect x="576" y="234" width="3" height="15" fill="#000"/>
<rect x="581" y="254" width="1" height="39" fill="#000"/>
<rect x="580" y="254" width="3" height="37" fill="#000"/>
<rect x="585" y="282" width="1" height="14" fill="#000"/>
<rect x="584" y="289" width="3" height="1" fill="#000"/>
<rect x="589" y="281" width="1" height="14" fill="#000"/>
<rect x="588" y="282" width="3" height="9" fill="#000"/>
<rect x="593" y="285" width="1" height="11" fill="#000"/>
<rect x="592" y="289" width="3" height="1" fill="#000"/>
<rect x="597" y="265" width="1" height="20" fill="#000"/>
<rect x="596" y="276" width="3" height="1" fill="#000"/>
<rect x="601" y="277" width="1" height="13" fill="#000"/>
<rect x="600" y="279" width="3" height="4" fill="#000"/>
<rect x="605" y="261" width="1" height="21" fill="#000"/>
<rect x="604" y="264" width="3" height="16" fill="#000"/>
<rect x="605" y="265" width="1" height="14" fill="#fff"/>
<rect x="609" y="252" width="1" height="18" fill="#000"/>
<rect x="608" y="254" width="3" height="12" fill="#000"/>
<rect x="609" y="255" width="1" height="10" fill="#fff"/>
<rect x="613" y="243" width="1" height="16" fill="#000"/>
<rect x="612" y="247" width="3" height="1" fill="#000"/>
<rect x="617" y="245" width="1" height="14" fill="#000"/>
<rect x="616" y="249" width="3" height="4" fill="#000"/>
<rect x="621" y="231" width="1" height="31" fill="#000"/>
<rect x="620" y="234" width="3" height="24" fill="#000"/>
<rect x="621" y="235" width="1" height="22" fill="#fff"/>
<rect x="625" y="227" width="1" height="12" fill="#000"/>
<rect x="624" y="230" width="3" height="1" fill="#000"/>
<rect x="629" y="231" width="1" height="14" fill="#000"/>
<rect x="628" y="235" width="3" height="9" fill="#000"/>
<rect x="633" y="241" width="1" height="15" fill="#000"/>
<rect x="632" y="242" width="3" height="13" fill="#000"/>
<rect x="637" y="271" width="1" height="14" fill="#000"/>
<rect x="636" y="277" width="3" height="6" fill="#000"/>
<rect x="641" y="266" width="1" height="19" fill="#000"/>
<rect x="640" y="275" width="3" height="8" fill="#000"/>
<rect x="641" y="276" width="1" height="6" fill="#fff"/>
<rect x="645" y="272" width="1" height="25" fill="#000"/>
<rect x="644" y="273" width="3" height="17" fill="#000"/>
<rect x="649" y="283" width="1" height="16" fill="#000"/>
<rect x="648" y="288" width="3" height="1" fill="#000"/>
<rect x="653" y="286" width="1" height="28" fill="#000"/>
<rect x="652" y="286" width="3" height="28" fill="#000"/>
<rect x="657" y="310" width="1" height="8" fill="#000"/>
<rect x="656" y="312" width="3" height="1" fill="#000"/>
<rect x="661" y="304" width="1" height="36" fill="#000"/>
<rect x="660" y="320" width="3" height="19" fill="#000"/>
<rect x="661" y="321" width="1" height="17" fill="#fff"/>
<rect x="665" y="313" width="1" height="19" fill="#000"/>
<rect x="664" y="320" width="3" height="6" fill="#000"/>
<rect x="669" y="306" width="1" height="17" fill="#000"/>
<rect x="668" y="314" width="3" height="4" fill="#000"/>
<rect x="673" y="315" width="1" height="12" fill="#000"/>
<rect x="672" y="317" width="3" height="1" fill="#000"/>
<rect x="677" y="296" width="1" height="22" fill="#000"/>
<rect x="676" y="303" width="3" height="12" fill="#000"/>
<rect x="677" y="304" width="1" height="10" fill="#fff"/>
<rect x="681" y="294" width="1" height="10" fill="#000"/>
<rect x="680" y="295" width="3" height="9" fill="#000"/>
<rect x="681" y="296" width="1" height="7" fill="#fff"/>
<rect x="685" y="286" width="1" height="15" fill="#000"/>
<rect x="684" y="287" width="3" height="13" fill="#000"/>
<rect x="685" y="288" width="1" height="11" fill="#fff"/>
<rect x="689" y="283" width="1" height="9" fill="#000"/>
<rect x="688" y="286" width="3" height="3" fill="#000"/>
<rect x="693" y="273" width="1" height="24" fill="#000"/>
<rect x="692" y="276" width="3" height="8" fill="#000"/>
<rect x="693" y="277" width="1" height="6" fill="#fff"/>
<rect x="697" y="271" width="1" height="10" fill="#000"/>
<rect x="696" y="275" width="3" height="4" fill="#000"/>
<rect x="697" y="276" width="1" height="2" fill="#fff"/>
<rect x="701" y="267" width="1" height="26" fill="#000"/>
<rect x="700" y="271" width="3" height="18" fill="#000"/>
<rect x="705" y="277" width="1" height="16" fill="#000"/>
<rect x="704" y="285" width="3" height="4" fill="#000"/>
<rect x="705" y="286" width="1" height="2" fill="#fff"/>
<rect x="709" y="289" width="1" height="12" fill="#000"/>
<rect x="708" y="294" width="3" height="1" fill="#000"/>
<rect x="713" y="279" width="1" height="16" fill="#000"/>
<rect x="712" y="291" width="3" height="4" fill="#000"/>
<rect x="713" y="292" width="1" height="2" fill="#fff"/>
<rect x="717" y="250" width="1" height="24" fill="#000"/>
<rect x="716" y="251" width="3" height="21" fill="#000"/>
<rect x="717" y="252" width="1" height="19" fill="#fff"/>
<rect x="721" y="249" width="1" height="7" fill="#000"/>
<rect x="720" y="250" width="3" height="1" fill="#000"/>
<rect x="725" y="232" width="1" height="18" fill="#000"/>
<rect x="724" y="234" width="3" height="15" fill="#000"/>
<rect x="729" y="245" width="1" height="10" fill="#000"/>
<rect x="728" y="247" width="3" height="1" fill="#000"/>
<rect x="733" y="243" width="1" height="13" fill="#000"/>
<rect x="732" y="246" width="3" height="5" fill="#000"/>
<rect x="733" y="247" width="1" height="3" fill="#fff"/>
<rect x="737" y="245" width="1" height="7" fill="#000"/>
<rect x="736" y="247" width="3" height="1" fill="#000"/>
<rect x="741" y="236" width="1" height="23" fill="#000"/>
<rect x="740" y="237" width="3" height="21" fill="#000"/>
<rect x="745" y="255" width="1" height="10" fill="#000"/>
<rect x="744" y="257" width="3" height="7" fill="#000"/>
<rect x="749" y="275" width="1" height="14" fill="#000"/>
<rect x="748" y="276" width="3" height="5" fill="#000"/>
<rect x="749" y="277" width="1" height="3" fill="#fff"/>
<rect x="753" y="274" width="1" height="12" fill="#000"/>
<rect x="752" y="277" width="3" height="5" fill="#000"/>
<rect x="757" y="279" width="1" height="17" fill="#000"/>
<rect x="756" y="288" width="3" height="5" fill="#000"/>
<rect x="761" y="285" width="1" height="11" fill="#000"/>
<rect x="760" y="288" width="3" height="3" fill="#000"/>
<rect x="761" y="289" width="1" height="1" fill="#fff"/>
<rect x="765" y="281" width="1" height="18" fill="#000"/>
<rect x="764" y="287" width="3" height="7" fill="#000"/>
<rect x="765" y="288" width="1" height="5" fill="#fff"/>
<rect x="769" y="269" width="1" height="20" fill="#000"/>
<rect x="768" y="274" width="3" height="15" fill="#000"/>
<rect x="769" y="275" width="1" height="13" fill="#fff"/>
<rect x="773" y="277" width="1" height="30" fill="#000"/>
<rect x="772" y="286" width="3" height="16" fill="#000"/>
<rect x="777" y="299" width="1" height="22" fill="#000"/>
<rect x="776" y="300" width="3" height="21" fill="#000"/>
<rect x="781" y="314" width="1" height="16" fill="#000"/>
<rect x="780" y="326" width="3" height="4" fill="#000"/>
<rect x="781" y="327" width="1" height="2" fill="#fff"/>
<rect x="785" y="326" width="1" height="15" fill="#000"/>
<rect x="784" y="327" width="3" height="3" fill="#000"/>
<rect x="789" y="318" width="1" height="35" fill="#000"/>
<rect x="788" y="338" width="3" height="8" fill="#000"/>
<rect x="793" y="328" width="1" height="20" fill="#000"/>
<rect x="792" y="337" width="3" height="9" fill="#000"/>
<rect x="793" y="338" width="1" height="7" fill="#fff"/>
<rect x="797" y="336" width="1" height="21" fill="#000"/>
<rect x="796" y="343" width="3" height="4" fill="#000"/>
<rect x="801" y="346" width="1" height="21" fill="#000"/>
<rect x="800" y="346" width="3" height="5" fill="#000"/>
<rect x="805" y="348" width="1" height="19" fill="#000"/>
<rect x="804" y="351" width="3" height="3" fill="#000"/>
<rect x="809" y="354" width="1" height="16" fill="#000"/>
<rect x="808" y="354" width="3" height="16" fill="#000"/>
<rect x="813" y="364" width="1" height="14" fill="#000"/>
<rect x="812" y="367" width="3" height="6" fill="#000"/>
<rect x="817" y="361" width="1" height="16" fill="#000"/>
<rect x="816" y="367" width="3" height="5" fill="#000"/>
<rect x="817" y="368" width="1" height="3" fill="#fff"/>
<rect x="821" y="332" width="1" height="17" fill="#000"/>
<rect x="820" y="343" width="3" height="1" fill="#000"/>
<rect x="825" y="324" width="1" height="28" fill="#000"/>
<rect x="824" y="327" width="3" height="18" fill="#000"/>
<rect x="825" y="328" width="1" height="16" fill="#fff"/>
<rect x="829" y="307" width="1" height="21" fill="#000"/>
<rect x="828" y="312" width="3" height="3" fill="#000"/>
<rect x="833" y="306" width="1" height="12" fill="#000"/>
<rect x="832" y="311" width="3" height="6" fill="#000"/>
<rect x="833" y="312" width="1" height="4" fill="#fff"/>
<rect x="837" y="325" width="1" height="20" fill="#000"/>
<rect x="836" y="333" width="3" height="5" fill="#000"/>
<rect x="841" y="327" width="1" height="14" fill="#000"/>
<rect x="840" y="334" width="3" height="3" fill="#000"/>
<rect x="841" y="335" width="1" height="1" fill="#fff"/>
<rect x="845" y="337" width="1" height="15" fill="#000"/>
<rect x="844" y="344" width="3" height="1" fill="#000"/>
<rect x="849" y="316" width="1" height="33" fill="#000"/>
<rect x="848" y="325" width="3" height="22" fill="#000"/>
<rect x="849" y="326" width="1" height="20" fill="#fff"/>
<rect x="853" y="302" width="1" height="22" fill="#000"/>
<rect x="852" y="306" width="3" height="9" fill="#000"/>
<rect x="853" y="307" width="1" height="7" fill="#fff"/>
<rect x="857" y="297" width="1" height="11" fill="#000"/>
<rect x="856" y="302" width="3" height="5" fill="#000"/>
<rect x="857" y="303" width="1" height="3" fill="#fff"/>
<rect x="861" y="289" width="1" height="17" fill="#000"/>
<rect x="860" y="292" width="3" height="13" fill="#000"/>
<rect x="865" y="296" width="1" height="15" fill="#000"/>
<rect x="864" y="299" width="3" height="6" fill="#000"/>
<rect x="865" y="300" width="1" height="4" fill="#fff"/>
<rect x="869" y="280" width="1" height="13" fill="#000"/>
<rect x="868" y="283" width="3" height="6" fill="#000"/>
<rect x="869" y="284" width="1" height="4" fill="#fff"/>
<rect x="873" y="267" width="1" height="17" fill="#000"/>
<rect x="872" y="270" width="3" height="14" fill="#000"/>
<rect x="873" y="271" width="1" height="12" fill="#fff"/>
<rect x="877" y="279" width="1" height="16" fill="#000"/>
<rect x="876" y="279" width="3" height="14" fill="#000"/>
<rect x="881" y="290" width="1" height="15" fill="#000"/>
<rect x="880" y="292" width="3" height="7" fill="#000"/>
<rect x="885" y="268" width="1" height="28" fill="#000"/>
<rect x="884" y="268" width="3" height="28" fill="#000"/>
<rect x="885" y="269" width="1" height="26" fill="#fff"/>
<rect x="889" y="265" width="1" height="15" fill="#000"/>
<rect x="888" y="267" width="3" height="11" fill="#000"/>
<rect x="893" y="271" width="1" height="18" fill="#000"/>
<rect x="892" y="274" width="3" height="11" fill="#000"/>
<rect x="897" y="280" width="1" height="7" fill="#000"/>
<rect x="896" y="284" width="3" height="1" fill="#000"/>
<rect x="901" y="270" width="1" height="10" fill="#000"/>
<rect x="900" y="272" width="3" height="7" fill="#000"/>
<rect x="901" y="273" width="1" height="5" fill="#fff"/>
<rect x="905" y="271" width="1" height="22" fill="#000"/>
<rect x="904" y="272" width="3" height="1" fill="#000"/>
<rect x="909" y="281" width="1" height="29" fill="#000"/>
<rect x="908" y="281" width="3" height="29" fill="#000"/>
<rect x="913" y="290" width="1" height="39" fill="#000"/>
<rect x="912" y="308" width="3" height="21" fill="#000"/>
<rect x="917" y="311" width="1" height="24" fill="#000"/>
<rect x="916" y="326" width="3" height="4" fill="#000"/>
<rect x="921" y="318" width="1" height="15" fill="#000"/>
<rect x="920" y="323" width="3" height="9" fill="#000"/>
<rect x="921" y="324" width="1" height="7" fill="#fff"/>
<rect x="925" y="333" width="1" height="23" fill="#000"/>
<rect x="924" y="337" width="3" height="17" fill="#000"/>
<rect x="929" y="350" width="1" height="9" fill="#000"/>
<rect x="928" y="352" width="3" height="1" fill="#000"/>
<rect x="933" y="351" width="1" height="18" fill="#000"/>
<rect x="932" y="358" width="3" height="7" fill="#000"/>
<rect x="933" y="359" width="1" height="5" fill="#fff"/>
<rect x="937" y="350" width="1" height="12" fill="#000"/>
<rect x="936" y="357" width="3" height="4" fill="#000"/>
<rect x="941" y="340" width="1" height="34" fill="#000"/>
<rect x="940" y="358" width="3" height="11" fill="#000"/>
<rect x="945" y="360" width="1" height="21" fill="#000"/>
<rect x="944" y="367" width="3" height="13" fill="#000"/>
<rect x="949" y="368" width="1" height="19" fill="#000"/>
<rect x="948" y="369" width="3" height="13" fill="#000"/>
<rect x="949" y="370" width="1" height="11" fill="#fff"/>
<rect x="953" y="368" width="1" height="17" fill="#000"/>
<rect x="952" y="368" width="3" height="17" fill="#000"/>
<rect x="957" y="359" width="1" height="22" fill="#000"/>
<rect x="956" y="368" width="3" height="13" fill="#000"/>
<rect x="957" y="369" width="1" height="11" fill="#fff"/>
<rect x="961" y="364" width="1" height="17" fill="#000"/>
<rect x="960" y="371" width="3" height="6" fill="#000"/>
<rect x="965" y="421" width="1" height="18" fill="#000"/>
<rect x="964" y="426" width="3" height="10" fill="#000"/>
<rect x="969" y="425" width="1" height="16" fill="#000"/>
<rect x="968" y="436" width="3" height="1" fill="#000"/>
<rect x="973" y="412" width="1" height="22" fill="#000"/>
<rect x="972" y="416" width="3" height="7" fill="#000"/>
<rect x="973" y="417" width="1" height="5" fill="#fff"/>
<rect x="977" y="402" width="1" height="13" fill="#000"/>
<rect x="976" y="406" width="3" height="9" fill="#000"/>
<rect x="977" y="407" width="1" height="7" fill="#fff"/>
<rect x="981" y="409" width="1" height="14" fill="#000"/>
<rect x="980" y="415" width="3" height="4" fill="#000"/>
<rect x="985" y="419" width="1" height="10" fill="#000"/>
<rect x="984" y="419" width="3" height="10" fill="#000"/>
<rect x="989" y="408" width="1" height="21" fill="#000"/>
<rect x="988" y="419" width="3" height="10" fill="#000"/>
<rect x="993" y="421" width="1" height="15" fill="#000"/>
<rect x="992" y="424" width="3" height="1" fill="#000"/>
<rect x="997" y="406" width="1" height="23" fill="#000"/>
<rect x="996" y="407" width="3" height="19" fill="#000"/>
<rect x="1001" y="420" width="1" height="16" fill="#000"/>
<rect x="1000" y="424" width="3" height="2" fill="#000"/>
<rect x="1005" y="419" width="1" height="26" fill="#000"/>
<rect x="1004" y="426" width="3" height="16" fill="#000"/>
<rect x="1005" y="427" width="1" height="14" fill="#fff"/>
<rect x="1009" y="404" width="1" height="25" fill="#000"/>
<rect x="1008" y="420" width="3" height="7" fill="#000"/>
<rect x="1013" y="376" width="1" height="43" fill="#000"/>
<rect x="1012" y="377" width="3" height="42" fill="#000"/>
<rect x="1013" y="378" width="1" height="40" fill="#fff"/>
<rect x="1017" y="374" width="1" height="10" fill="#000"/>
<rect x="1016" y="376" width="3" height="8" fill="#000"/>
<rect x="1017" y="377" width="1" height="6" fill="#fff"/>
<rect x="1021" y="391" width="1" height="28" fill="#000"/>
<rect x="1020" y="392" width="3" height="21" fill="#000"/>
<rect x="1025" y="409" width="1" height="25" fill="#000"/>
<rect x="1024" y="411" width="3" height="18" fill="#000"/>
<rect x="1029" y="407" width="1" height="31" fill="#000"/>
<rect x="1028" y="415" width="3" height="11" fill="#000"/>
<rect x="1029" y="416" width="1" height="9" fill="#fff"/>
<rect x="1033" y="412" width="1" height="26" fill="#000"/>
<rect x="1032" y="413" width="3" height="23" fill="#000"/>
<rect x="1037" y="457" width="1" height="17" fill="#000"/>
<rect x="1036" y="461" width="3" height="1" fill="#000"/>
<rect x="1041" y="449" width="1" height="20" fill="#000"/>
<rect x="1040" y="455" width="3" height="8" fill="#000"/>
<rect x="1041" y="456" width="1" height="6" fill="#fff"/>
<rect x="1045" y="447" width="1" height="30" fill="#000"/>
<rect x="1044" y="450" width="3" height="25" fill="#000"/>
<rect x="1049" y="459" width="1" height="12" fill="#000"/>
<rect x="1048" y="464" width="3" height="1" fill="#000"/>
<rect x="1053" y="449" width="1" height="25" fill="#000"/>
<rect x="1052" y="456" width="3" height="12" fill="#000"/>
<rect x="1057" y="458" width="1" height="14" fill="#000"/>
<rect x="1056" y="464" width="3" height="2" fill="#000"/>
<rect x="1061" y="455" width="1" height="22" fill="#000"/>
<rect x="1060" y="461" width="3" height="7" fill="#000"/>
<rect x="1061" y="462" width="1" height="5" fill="#fff"/>
<rect x="1065" y="450" width="1" height="27" fill="#000"/>
<rect x="1064" y="459" width="3" height="16" fill="#000"/>
<rect x="1069" y="455" width="1" height="14" fill="#000"/>
<rect x="1068" y="462" width="3" height="3" fill="#000"/>
<rect x="1073" y="450" width="1" height="15" fill="#000"/>
<rect x="1072" y="455" width="3" height="10" fill="#000"/>
<rect x="1073" y="456" width="1" height="8" fill="#fff"/>
<rect x="1077" y="422" width="1" height="26" fill="#000"/>
<rect x="1076" y="423" width="3" height="22" fill="#000"/>
<rect x="1077" y="424" width="1" height="20" fill="#fff"/>
<rect x="1081" y="417" width="1" height="16" fill="#000"/>
<rect x="1080" y="423" width="3" height="6" fill="#000"/>
<rect x="1085" y="385" width="1" height="18" fill="#000"/>
<rect x="1084" y="388" width="3" height="12" fill="#000"/>
<rect x="1085" y="389" width="1" height="10" fill="#fff"/>
<rect x="1089" y="357" width="1" height="25" fill="#000"/>
<rect x="1088" y="357" width="3" height="25" fill="#000"/>
<rect x="1089" y="358" width="1" height="23" fill="#fff"/>
<rect x="1093" y="380" width="1" height="23" fill="#000"/>
<rect x="1092" y="387" width="3" height="13" fill="#000"/>
<rect x="1097" y="385" width="1" height="21" fill="#000"/>
<rect x="1096" y="393" width="3" height="10" fill="#000"/>
<rect x="1101" y="386" width="1" height="13" fill="#000"/>
<rect x="1100" y="387" width="3" height="9" fill="#000"/>
<rect x="1105" y="378" width="1" height="21" fill="#000"/>
<rect x="1104" y="385" width="3" height="10" fill="#000"/>
<rect x="1105" y="386" width="1" height="8" fill="#fff"/>
<rect x="1109" y="362" width="1" height="25" fill="#000"/>
<rect x="1108" y="363" width="3" height="21" fill="#000"/>
<rect x="1109" y="364" width="1" height="19" fill="#fff"/>
<rect x="1113" y="361" width="1" height="36" fill="#000"/>
<rect x="1112" y="362" width="3" height="17" fill="#000"/>
<rect x="1117" y="350" width="1" height="21" fill="#000"/>
<rect x="1116" y="351" width="3" height="14" fill="#000"/>
<rect x="1121" y="361" width="1" height="21" fill="#000"/>
<rect x="1120" y="363" width="3" height="13" fill="#000"/>
<rect x="1125" y="393" width="1" height="23" fill="#000"/>
<rect x="1124" y="403" width="3" height="13" fill="#000"/>
<rect x="1129" y="414" width="1" height="10" fill="#000"/>
<rect x="1128" y="414" width="3" height="7" fill="#000"/>
<rect x="1133" y="402" width="1" height="20" fill="#000"/>
<rect x="1132" y="408" width="3" height="14" fill="#000"/>
<rect x="1133" y="409" width="1" height="12" fill="#fff"/>
<rect x="1137" y="408" width="1" height="10" fill="#000"/>
<rect x="1136" y="408" width="3" height="8" fill="#000"/>
<rect x="1141" y="410" width="1" height="38" fill="#000"/>
<rect x="1140" y="414" width="3" height="31" fill="#000"/>
<rect x="1141" y="415" width="1" height="29" fill="#fff"/>
<rect x="1145" y="396" width="1" height="26" fill="#000"/>
<rect x="1144" y="398" width="3" height="16" fill="#000"/>
<rect x="1145" y="399" width="1" height="14" fill="#fff"/>
<rect x="1149" y="398" width="1" height="11" fill="#000"/>
<rect x="1148" y="400" width="3" height="6" fill="#000"/>
<rect x="1153" y="405" width="1" height="18" fill="#000"/>
<rect x="1152" y="406" width="3" height="10" fill="#000"/>
<rect x="1157" y="396" width="1" height="19" fill="#000"/>
<rect x="1156" y="397" width="3" height="10" fill="#000"/>
<rect x="1161" y="379" width="1" height="28" fill="#000"/>
<rect x="1160" y="385" width="3" height="18" fill="#000"/>
<rect x="1161" y="386" width="1" height="16" fill="#fff"/>
<rect x="1165" y="376" width="1" height="24" fill="#000"/>
<rect x="1164" y="377" width="3" height="4" fill="#000"/>
<rect x="1165" y="378" width="1" height="2" fill="#fff"/>
<rect x="1169" y="375" width="1" height="13" fill="#000"/>
<rect x="1168" y="376" width="3" height="3" fill="#000"/>
<rect x="1173" y="364" width="1" height="20" fill="#000"/>
<rect x="1172" y="374" width="3" height="10" fill="#000"/>
<rect x="1173" y="375" width="1" height="8" fill="#fff"/>
<rect x="1177" y="367" width="1" height="11" fill="#000"/>
<rect x="1176" y="369" width="3" height="5" fill="#000"/>
<rect x="1177" y="370" width="1" height="3" fill="#fff"/>
<rect x="1181" y="380" width="1" height="27" fill="#000"/>
<rect x="1180" y="391" width="3" height="8" fill="#000"/>
<rect x="1185" y="388" width="1" height="17" fill="#000"/>
<rect x="1184" y="395" width="3" height="1" fill="#000"/>
<rect x="1189" y="401" width="1" height="23" fill="#000"/>
<rect x="1188" y="401" width="3" height="21" fill="#000"/>
<rect x="1189" y="402" width="1" height="19" fill="#fff"/>
<rect x="1193" y="390" width="1" height="15" fill="#000"/>
<rect x="1192" y="393" width="3" height="6" fill="#000"/>
<rect x="1193" y="394" width="1" height="4" fill="#fff"/>
<rect x="1197" y="384" width="1" height="10" fill="#000"/>
<rect x="1196" y="384" width="3" height="10" fill="#000"/>
<rect x="1201" y="383" width="1" height="18" fill="#000"/>
<rect x="1200" y="385" width="3" height="5" fill="#000"/>
<rect x="1201" y="386" width="1" height="3" fill="#fff"/>
<rect x="1205" y="385" width="1" height="18" fill="#000"/>
<rect x="1204" y="389" width="3" height="6" fill="#000"/>
<rect x="1209" y="387" width="1" height="14" fill="#000"/>
<rect x="1208" y="396" width="3" height="1" fill="#000"/>
<rect x="1213" y="361" width="1" height="28" fill="#000"/>
<rect x="1212" y="365" width="3" height="24" fill="#000"/>
<rect x="1213" y="366" width="1" height="22" fill="#fff"/>
<rect x="1217" y="362" width="1" height="11" fill="#000"/>
<rect x="1216" y="363" width="3" height="3" fill="#000"/>
<rect x="1217" y="364" width="1" height="1" fill="#fff"/>
<rect x="1221" y="363" width="1" height="17" fill="#000"/>
<rect x="1220" y="366" width="3" height="1" fill="#000"/>
<rect x="1225" y="361" width="1" height="15" fill="#000"/>
<rect x="1224" y="365" width="3" height="9" fill="#000"/>
<rect x="1229" y="349" width="1" height="20" fill="#000"/>
<rect x="1228" y="353" width="3" height="14" fill="#000"/>
<rect x="1229" y="354" width="1" height="12" fill="#fff"/>
<rect x="1233" y="347" width="1" height="8" fill="#000"/>
<rect x="1232" y="349" width="3" height="3" fill="#000"/>
<rect x="1233" y="350" width="1" height="1" fill="#fff"/>
<rect x="1237" y="329" width="1" height="22" fill="#000"/>
<rect x="1236" y="334" width="3" height="13" fill="#000"/>
<rect x="1241" y="344" width="1" height="20" fill="#000"/>
<rect x="1240" y="346" width="3" height="14" fill="#000"/>
<rect x="1245" y="343" width="1" height="21" fill="#000"/>
<rect x="1244" y="347" width="3" height="4" fill="#000"/>
<rect x="1245" y="348" width="1" height="2" fill="#fff"/>
<rect x="1249" y="347" width="1" height="14" fill="#000"/>
<rect x="1248" y="347" width="3" height="9" fill="#000"/>
<rect x="1253" y="307" width="1" height="19" fill="#000"/>
<rect x="1252" y="309" width="3" height="9" fill="#000"/>
<rect x="1253" y="310" width="1" height="7" fill="#fff"/>
<rect x="1257" y="310" width="1" height="12" fill="#000"/>
<rect x="1256" y="310" width="3" height="2" fill="#000"/>
<rect x="1261" y="313" width="1" height="12" fill="#000"/>
<rect x="1260" y="316" width="3" height="5" fill="#000"/>
<rect x="1261" y="317" width="1" height="3" fill="#fff"/>
<rect x="1265" y="310" width="1" height="12" fill="#000"/>
<rect x="1264" y="310" width="3" height="11" fill="#000"/>
<rect x="1265" y="311" width="1" height="9" fill="#fff"/>
<rect x="1269" y="330" width="1" height="14" fill="#000"/>
<rect x="1268" y="334" width="3" height="6" fill="#000"/>
<rect x="1269" y="335" width="1" height="4" fill="#fff"/>
<rect x="1273" y="334" width="1" height="9" fill="#000"/>
<rect x="1272" y="334" width="3" height="9" fill="#000"/>
<rect x="1277" y="357" width="1" height="30" fill="#000"/>
<rect x="1276" y="357" width="3" height="25" fill="#000"/>
<rect x="1281" y="376" width="1" height="12" fill="#000"/>
<rect x="1280" y="379" width="3" height="5" fill="#000"/>
<rect x="1281" y="380" width="1" height="3" fill="#fff"/>
<rect x="1285" y="369" width="1" height="12" fill="#000"/>
<rect x="1284" y="374" width="3" height="1" fill="#000"/>
<rect x="1289" y="371" width="1" height="17" fill="#000"/>
<rect x="1288" y="372" width="3" height="12" fill="#000"/>
<rect x="1293" y="400" width="1" height="15" fill="#000"/>
<rect x="1292" y="402" width="3" height="6" fill="#000"/>
<rect x="1297" y="402" width="1" height="9" fill="#000"/>
<rect x="1296" y="405" width="3" height="1" fill="#000"/>
<rect x="1301" y="401" width="1" height="13" fill="#000"/>
<rect x="1300" y="407" width="3" height="1" fill="#000"/>
<rect x="1305" y="401" width="1" height="7" fill="#000"/>
<rect x="1304" y="404" width="3" height="3" fill="#000"/>
<rect x="1305" y="405" width="1" height="1" fill="#fff"/>
<rect x="1309" y="373" width="1" height="15" fill="#000"/>
<rect x="1308" y="376" width="3" height="11" fill="#000"/>
<rect x="1309" y="377" width="1" height="9" fill="#fff"/>
<rect x="1313" y="373" width="1" height="5" fill="#000"/>
<rect x="1312" y="374" width="3" height="3" fill="#000"/>
<rect x="1313" y="375" width="1" height="1" fill="#fff"/>
<rect x="1317" y="349" width="1" height="20" fill="#000"/>
<rect x="1316" y="352" width="3" height="14" fill="#000"/>
<rect x="1317" y="353" width="1" height="12" fill="#fff"/>
<rect x="1321" y="351" width="1" height="10" fill="#000"/>
<rect x="1320" y="352" width="3" height="5" fill="#000"/>
<rect x="1325" y="374" width="1" height="10" fill="#000"/>
<rect x="1324" y="375" width="3" height="4" fill="#000"/>
<rect x="1329" y="377" width="1" height="11" fill="#000"/>
<rect x="1328" y="378" width="3" height="9" fill="#000"/>
<rect x="1333" y="374" width="1" height="12" fill="#000"/>
<rect x="1332" y="378" width="3" height="5" fill="#000"/>
<rect x="1337" y="376" width="1" height="9" fill="#000"/>
<rect x="1336" y="378" width="3" height="6" fill="#000"/>
<rect x="1341" y="376" width="1" height="26" fill="#000"/>
<rect x="1340" y="394" width="3" height="3" fill="#000"/>
<rect x="1345" y="394" width="1" height="13" fill="#000"/>
<rect x="1344" y="396" width="3" height="2" fill="#000"/>
<rect x="1349" y="391" width="1" height="10" fill="#000"/>
<rect x="1348" y="394" width="3" height="3" fill="#000"/>
<rect x="1349" y="395" width="1" height="1" fill="#fff"/>
<rect x="1353" y="391" width="1" height="8" fill="#000"/>
<rect x="1352" y="392" width="3" height="3" fill="#000"/>
<rect x="1353" y="393" width="1" height="1" fill="#fff"/>
<rect x="1357" y="395" width="1" height="22" fill="#000"/>
<rect x="1356" y="400" width="3" height="17" fill="#000"/>
<rect x="1361" y="408" width="1" height="18" fill="#000"/>
<rect x="1360" y="415" width="3" height="6" fill="#000"/>
<rect x="1361" y="416" width="1" height="4" fill="#fff"/>
<rect x="1365" y="410" width="1" height="20" fill="#000"/>
<rect x="1364" y="413" width="3" height="7" fill="#000"/>
<rect x="1365" y="414" width="1" height="5" fill="#fff"/>
<rect x="1369" y="401" width="1" height="15" fill="#000"/>
<rect x="1368" y="408" width="3" height="6" fill="#000"/>
<rect x="1369" y="409" width="1" height="4" fill="#fff"/>
<rect x="1373" y="407" width="1" height="15" fill="#000"/>
<rect x="1372" y="408" width="3" height="14" fill="#000"/>
<rect x="1373" y="409" width="1" height="12" fill="#fff"/>
<rect x="1377" y="391" width="1" height="6" fill="#000"/>
<rect x="1376" y="393" width="3" height="3" fill="#000"/>
<rect x="5" y="366" width="1572" height="1" fill="#ff0000"/>
<rect x="5.5" y="364.5" width="4" height="4" fill="#fff" stroke="#ff0000" stroke-width="1"/>
<rect x="1572.5" y="364.5" width="4" height="4" fill="#fff" stroke="#ff0000" stroke-width="1"/>
<rect x="5" y="378" width="1572" height="1" fill="#ff0000"/>
<rect x="5.5" y="376.5" width="4" height="4" fill="#fff" stroke="#ff0000" stroke-width="1"/>
<rect x="1572.5" y="376.5" width="4" height="4" fill="#fff" stroke="#ff0000" stroke-width="1"/>
<rect x="5" y="398" width="1572" height="1" fill="#008000"/>
<rect x="5.5" y="396.5" width="4" height="4" fill="#fff" stroke="#008000" stroke-width="1"/>
<rect x="1572.5" y="396.5" width="4" height="4" fill="#fff" stroke="#008000" stroke-width="1"/>
<rect x="5" y="407" width="1572" height="1" fill="#0000ff"/>
<rect x="5.5" y="405.5" width="4" height="4" fill="#fff" stroke="#0000ff" stroke-width="1"/>
<rect x="1572.5" y="405.5" width="4" height="4" fill="#fff" stroke="#0000ff" stroke-width="1"/>
<rect x="5" y="418" width="1572" height="1" fill="#0000ff"/>
<rect x="5.5" y="416.5" width="4" height="4" fill="#fff" stroke="#0000ff" stroke-width="1"/>
<rect x="1572.5" y="416.5" width="4" height="4" fill="#fff" stroke="#0000ff" stroke-width="1"/>
<text y="401" fill="#00ff00"><tspan x="1041.5" y="400" font-size="20.2" letter-spacing="2.2" stroke="#00ff00" stroke-width="0.35">多空转折点</tspan><tspan x="1155.2" y="401" font-size="20" font-weight="bold" letter-spacing="1.1" stroke="#00ff00" stroke-width="0.5">25822</tspan></text>
<polyline points="5.5,121.5 33.5,149.5 49.5,163.5 69.5,102.5 101.5,170.5 142.5,56.5 229.5,157.5 281.5,51.5 425.5,283.5 445.5,206.5 509.5,282.5 541.5,199.5 585.5,295.5 625.5,227.5 661.5,338.5 725.5,232.5 813.5,377.5 889.5,265.5 1005.5,444.5 1017.5,374.5 1045.5,476.5 1117.5,350.5 1141.5,447.5 1173.5,364.5 1189.5,423.5 1253.5,307.5 1365.5,429.5" fill="none" stroke="#ff0000" stroke-width="1"/>
<rect x="1282" y="394" width="42" height="6" fill="#00ff00"/>
<polygon points="1383,29 1392,29 1387.5,34" fill="#c0c0c0"/>
</svg>
<path d="M8,39.5 L15,39.5 L11.5,35 Z" fill="#000"/>
<text x="20" y="40" font-size="9.5" fill="#000" text-anchor="start" letter-spacing="-0.15">HK50-,H4&#160;&#160;25899.0 25940.0 25855.5 25876.0</text>
<text x="1583" y="390" font-size="9.5" fill="#000" text-anchor="start" letter-spacing="-0.15">26007.0</text>
<rect x="1579" y="389" width="35" height="3" fill="#000"/>
<rect x="1579" y="360" width="35" height="11" fill="#ff0000"/>
<text x="1583" y="369" font-size="9.5" fill="#fff" text-anchor="start" letter-spacing="-0.15">26341.6</text>
<rect x="1579" y="372" width="35" height="11" fill="#ff0000"/>
<text x="1583" y="381" font-size="9.5" fill="#fff" text-anchor="start" letter-spacing="-0.15">26143.9</text>
<rect x="1579" y="392" width="35" height="11" fill="#008000"/>
<text x="1583" y="401" font-size="9.5" fill="#fff" text-anchor="start" letter-spacing="-0.15">25822.9</text>
<rect x="1579" y="403" width="35" height="20" fill="#0000ff"/>
<text x="1583" y="412" font-size="9.5" fill="#fff" text-anchor="start" letter-spacing="-0.15">25662.7</text>
<text x="1583" y="422" font-size="9.5" fill="#fff" text-anchor="start" letter-spacing="-0.15">25492.9</text>
<defs>
<linearGradient id="gTab" x1="0" y1="0" x2="0" y2="1"><stop offset="0" stop-color="#ff5a5a"/><stop offset="1" stop-color="#d42424"/></linearGradient>
<linearGradient id="gBox" x1="0" y1="0" x2="0" y2="1"><stop offset="0" stop-color="#e23434"/><stop offset="1" stop-color="#b00000"/></linearGradient>
<linearGradient id="gBtn" x1="0" y1="0" x2="0" y2="1"><stop offset="0" stop-color="#f2f2f2"/><stop offset="0.45" stop-color="#ebebeb"/><stop offset="0.5" stop-color="#dadada"/><stop offset="1" stop-color="#d2d2d2"/></linearGradient>
<pattern id="chk" width="2" height="2" patternUnits="userSpaceOnUse"><rect width="2" height="2" fill="#f7f7f7"/><rect width="1" height="1" fill="#ffffff"/><rect x="1" y="1" width="1" height="1" fill="#ffffff"/></pattern>
</defs>
<rect x="8" y="48" width="219" height="64" fill="#ffffff"/>
<rect x="8" y="72" width="109" height="40" fill="url(#gBox)"/>
<rect x="8" y="48" width="52" height="24" fill="url(#gTab)"/>
<rect x="8" y="48" width="52" height="1" fill="#b00000"/>
<rect x="8" y="48" width="1" height="24" fill="#b00000"/>
<rect x="59" y="48" width="1" height="24" fill="#b00000"/>
<rect x="8" y="72" width="109" height="1" fill="#b00000"/>
<rect x="8" y="111" width="109" height="1" fill="#a00000"/>
<rect x="8" y="72" width="1" height="40" fill="#b00000"/>
<rect x="116" y="72" width="1" height="40" fill="#b00000"/>
<rect x="12" y="71" width="44" height="1" fill="#8a0000"/>
<rect x="12" y="72" width="44" height="1" fill="#ff7070"/>
<text x="20" y="64" font-size="11.5" fill="#ffeaea" text-anchor="start" letter-spacing="-0.4">SELL</text>
<text x="24" y="103" font-size="12.5" fill="#fff" text-anchor="start" font-weight="bold">25874</text>
<circle cx="65.6" cy="100.9" r="2.1" fill="#fff" shape-rendering="auto"/>
<path d="M84.2,80 L73.2,80 L72.9,89.4 C74.5,88.4 76.3,88 78.2,88 C81.8,88 83.7,91 83.7,95 C83.7,99.5 81.2,102 77.7,102 C75.3,102 73.2,101 71.6,99.4" fill="none" stroke="#fff" stroke-width="2.3" shape-rendering="auto"/>
<rect x="119" y="72" width="108" height="40" fill="url(#gBox)"/>
<rect x="175" y="48" width="52" height="24" fill="url(#gTab)"/>
<rect x="175" y="48" width="52" height="1" fill="#b00000"/>
<rect x="175" y="48" width="1" height="24" fill="#b00000"/>
<rect x="226" y="48" width="1" height="24" fill="#b00000"/>
<rect x="119" y="72" width="108" height="1" fill="#b00000"/>
<rect x="119" y="111" width="108" height="1" fill="#a00000"/>
<rect x="119" y="72" width="1" height="40" fill="#b00000"/>
<rect x="226" y="72" width="1" height="40" fill="#b00000"/>
<rect x="179" y="71" width="44" height="1" fill="#8a0000"/>
<rect x="179" y="72" width="44" height="1" fill="#ff7070"/>
<text x="188" y="64" font-size="11.5" fill="#ffeaea" text-anchor="start" letter-spacing="-0.4">BUY</text>
<text x="135" y="103" font-size="12.5" fill="#fff" text-anchor="start" font-weight="bold">25888</text>
<circle cx="176.6" cy="100.9" r="2.1" fill="#fff" shape-rendering="auto"/>
<path d="M195.2,80 L184.2,80 L183.9,89.4 C185.5,88.4 187.3,88 189.2,88 C192.8,88 194.7,91 194.7,95 C194.7,99.5 192.2,102 188.7,102 C186.3,102 184.2,101 182.6,99.4" fill="none" stroke="#fff" stroke-width="2.3" shape-rendering="auto"/>
<rect x="62" y="48" width="111" height="22" fill="#a8acb4"/>
<rect x="63" y="49" width="109" height="20" fill="#fff"/>
<rect x="64" y="50" width="18" height="18" fill="url(#gBtn)"/>
<rect x="83" y="49" width="1" height="20" fill="#a8acb4"/>
<rect x="153" y="50" width="18" height="18" fill="url(#gBtn)"/>
<rect x="151" y="49" width="1" height="20" fill="#a8acb4"/>
<path d="M70,57 L75.5,57 L72.75,60 Z" fill="#4060c8"/>
<path d="M159,60 L164.5,60 L161.75,57 Z" fill="#4060c8"/>
<text x="147" y="63" font-size="12" fill="#000" text-anchor="end">1.00</text>
<svg x="5" y="491" width="1572" height="155" viewBox="5 491 1572 155" overflow="hidden">
<rect x="5" y="550" width="1" height="1" fill="#c0c0c0"/>
<rect x="9" y="550" width="1" height="1" fill="#c0c0c0"/>
<rect x="13" y="550" width="1" height="2" fill="#c0c0c0"/>
<rect x="17" y="550" width="1" height="3" fill="#c0c0c0"/>
<rect x="21" y="550" width="1" height="4" fill="#c0c0c0"/>
<rect x="25" y="550" width="1" height="5" fill="#c0c0c0"/>
<rect x="29" y="550" width="1" height="4" fill="#c0c0c0"/>
<rect x="33" y="550" width="1" height="2" fill="#c0c0c0"/>
<rect x="37" y="550" width="1" height="3" fill="#c0c0c0"/>
<rect x="41" y="550" width="1" height="5" fill="#c0c0c0"/>
<rect x="45" y="550" width="1" height="11" fill="#c0c0c0"/>
<rect x="49" y="550" width="1" height="16" fill="#c0c0c0"/>
<rect x="53" y="550" width="1" height="20" fill="#c0c0c0"/>
<rect x="57" y="550" width="1" height="20" fill="#c0c0c0"/>
<rect x="61" y="550" width="1" height="20" fill="#c0c0c0"/>
<rect x="65" y="550" width="1" height="14" fill="#c0c0c0"/>
<rect x="69" y="550" width="1" height="7" fill="#c0c0c0"/>
<rect x="73" y="550" width="1" height="5" fill="#c0c0c0"/>
<rect x="77" y="550" width="1" height="1" fill="#c0c0c0"/>
<rect x="81" y="550" width="1" height="6" fill="#c0c0c0"/>
<rect x="85" y="550" width="1" height="8" fill="#c0c0c0"/>
<rect x="89" y="550" width="1" height="11" fill="#c0c0c0"/>
<rect x="93" y="550" width="1" height="16" fill="#c0c0c0"/>
<rect x="97" y="550" width="1" height="18" fill="#c0c0c0"/>
<rect x="101" y="550" width="1" height="20" fill="#c0c0c0"/>
<rect x="105" y="550" width="1" height="22" fill="#c0c0c0"/>
<rect x="109" y="550" width="1" height="19" fill="#c0c0c0"/>
<rect x="113" y="550" width="1" height="15" fill="#c0c0c0"/>
<rect x="117" y="550" width="1" height="11" fill="#c0c0c0"/>
<rect x="121" y="550" width="1" height="6" fill="#c0c0c0"/>
<rect x="125" y="550" width="1" height="2" fill="#c0c0c0"/>
<rect x="129" y="545" width="1" height="6" fill="#c0c0c0"/>
<rect x="133" y="536" width="1" height="15" fill="#c0c0c0"/>
<rect x="137" y="529" width="1" height="22" fill="#c0c0c0"/>
<rect x="141" y="520" width="1" height="31" fill="#c0c0c0"/>
<rect x="145" y="512" width="1" height="39" fill="#c0c0c0"/>
<rect x="149" y="511" width="1" height="40" fill="#c0c0c0"/>
<rect x="153" y="512" width="1" height="39" fill="#c0c0c0"/>
<rect x="157" y="514" width="1" height="37" fill="#c0c0c0"/>
<rect x="161" y="516" width="1" height="35" fill="#c0c0c0"/>
<rect x="165" y="518" width="1" height="33" fill="#c0c0c0"/>
<rect x="169" y="520" width="1" height="31" fill="#c0c0c0"/>
<rect x="173" y="522" width="1" height="29" fill="#c0c0c0"/>
<rect x="177" y="524" width="1" height="27" fill="#c0c0c0"/>
<rect x="181" y="520" width="1" height="31" fill="#c0c0c0"/>
<rect x="185" y="519" width="1" height="32" fill="#c0c0c0"/>
<rect x="189" y="524" width="1" height="27" fill="#c0c0c0"/>
<rect x="193" y="531" width="1" height="20" fill="#c0c0c0"/>
<rect x="197" y="536" width="1" height="15" fill="#c0c0c0"/>
<rect x="201" y="539" width="1" height="12" fill="#c0c0c0"/>
<rect x="205" y="542" width="1" height="9" fill="#c0c0c0"/>
<rect x="209" y="545" width="1" height="6" fill="#c0c0c0"/>
<rect x="213" y="545" width="1" height="6" fill="#c0c0c0"/>
<rect x="217" y="546" width="1" height="5" fill="#c0c0c0"/>
<rect x="221" y="550" width="1" height="1" fill="#c0c0c0"/>
<rect x="225" y="550" width="1" height="5" fill="#c0c0c0"/>
<rect x="229" y="550" width="1" height="14" fill="#c0c0c0"/>
<rect x="233" y="550" width="1" height="22" fill="#c0c0c0"/>
<rect x="237" y="550" width="1" height="23" fill="#c0c0c0"/>
<rect x="241" y="550" width="1" height="20" fill="#c0c0c0"/>
<rect x="245" y="550" width="1" height="20" fill="#c0c0c0"/>
<rect x="249" y="550" width="1" height="19" fill="#c0c0c0"/>
<rect x="253" y="550" width="1" height="13" fill="#c0c0c0"/>
<rect x="257" y="550" width="1" height="7" fill="#c0c0c0"/>
<rect x="261" y="550" width="1" height="1" fill="#c0c0c0"/>
<rect x="265" y="545" width="1" height="6" fill="#c0c0c0"/>
<rect x="269" y="539" width="1" height="12" fill="#c0c0c0"/>
<rect x="273" y="535" width="1" height="16" fill="#c0c0c0"/>
<rect x="277" y="529" width="1" height="22" fill="#c0c0c0"/>
<rect x="281" y="523" width="1" height="28" fill="#c0c0c0"/>
<rect x="285" y="523" width="1" height="28" fill="#c0c0c0"/>
<rect x="289" y="528" width="1" height="23" fill="#c0c0c0"/>
<rect x="293" y="529" width="1" height="22" fill="#c0c0c0"/>
<rect x="297" y="530" width="1" height="21" fill="#c0c0c0"/>
<rect x="301" y="530" width="1" height="21" fill="#c0c0c0"/>
<rect x="305" y="531" width="1" height="20" fill="#c0c0c0"/>
<rect x="309" y="535" width="1" height="16" fill="#c0c0c0"/>
<rect x="313" y="539" width="1" height="12" fill="#c0c0c0"/>
<rect x="317" y="546" width="1" height="5" fill="#c0c0c0"/>
<rect x="321" y="550" width="1" height="1" fill="#c0c0c0"/>
<rect x="325" y="550" width="1" height="7" fill="#c0c0c0"/>
<rect x="329" y="550" width="1" height="13" fill="#c0c0c0"/>
<rect x="333" y="550" width="1" height="25" fill="#c0c0c0"/>
<rect x="337" y="550" width="1" height="37" fill="#c0c0c0"/>
<rect x="341" y="550" width="1" height="44" fill="#c0c0c0"/>
<rect x="345" y="550" width="1" height="47" fill="#c0c0c0"/>
<rect x="349" y="550" width="1" height="52" fill="#c0c0c0"/>
<rect x="353" y="550" width="1" height="57" fill="#c0c0c0"/>
<rect x="357" y="550" width="1" height="61" fill="#c0c0c0"/>
<rect x="361" y="550" width="1" height="62" fill="#c0c0c0"/>
<rect x="365" y="550" width="1" height="64" fill="#c0c0c0"/>
<rect x="369" y="550" width="1" height="68" fill="#c0c0c0"/>
<rect x="373" y="550" width="1" height="71" fill="#c0c0c0"/>
<rect x="377" y="550" width="1" height="72" fill="#c0c0c0"/>
<rect x="381" y="550" width="1" height="77" fill="#c0c0c0"/>
<rect x="385" y="550" width="1" height="83" fill="#c0c0c0"/>
<rect x="389" y="550" width="1" height="87" fill="#c0c0c0"/>
<rect x="393" y="550" width="1" height="89" fill="#c0c0c0"/>
<rect x="397" y="550" width="1" height="85" fill="#c0c0c0"/>
<rect x="401" y="550" width="1" height="83" fill="#c0c0c0"/>
<rect x="405" y="550" width="1" height="83" fill="#c0c0c0"/>
<rect x="409" y="550" width="1" height="83" fill="#c0c0c0"/>
<rect x="413" y="550" width="1" height="83" fill="#c0c0c0"/>
<rect x="417" y="550" width="1" height="83" fill="#c0c0c0"/>
<rect x="421" y="550" width="1" height="81" fill="#c0c0c0"/>
<rect x="425" y="550" width="1" height="80" fill="#c0c0c0"/>
<rect x="429" y="550" width="1" height="76" fill="#c0c0c0"/>
<rect x="433" y="550" width="1" height="73" fill="#c0c0c0"/>
<rect x="437" y="550" width="1" height="62" fill="#c0c0c0"/>
<rect x="441" y="550" width="1" height="53" fill="#c0c0c0"/>
<rect x="445" y="550" width="1" height="44" fill="#c0c0c0"/>
<rect x="449" y="550" width="1" height="39" fill="#c0c0c0"/>
<rect x="453" y="550" width="1" height="39" fill="#c0c0c0"/>
<rect x="457" y="550" width="1" height="37" fill="#c0c0c0"/>
<rect x="461" y="550" width="1" height="33" fill="#c0c0c0"/>
<rect x="465" y="550" width="1" height="31" fill="#c0c0c0"/>
<rect x="469" y="550" width="1" height="27" fill="#c0c0c0"/>
<rect x="473" y="550" width="1" height="23" fill="#c0c0c0"/>
<rect x="477" y="550" width="1" height="22" fill="#c0c0c0"/>
<rect x="481" y="550" width="1" height="21" fill="#c0c0c0"/>
<rect x="485" y="550" width="1" height="22" fill="#c0c0c0"/>
<rect x="489" y="550" width="1" height="23" fill="#c0c0c0"/>
<rect x="493" y="550" width="1" height="23" fill="#c0c0c0"/>
<rect x="497" y="550" width="1" height="25" fill="#c0c0c0"/>
<rect x="501" y="550" width="1" height="27" fill="#c0c0c0"/>
<rect x="505" y="550" width="1" height="28" fill="#c0c0c0"/>
<rect x="509" y="550" width="1" height="31" fill="#c0c0c0"/>
<rect x="513" y="550" width="1" height="29" fill="#c0c0c0"/>
<rect x="517" y="550" width="1" height="26" fill="#c0c0c0"/>
<rect x="521" y="550" width="1" height="23" fill="#c0c0c0"/>
<rect x="525" y="550" width="1" height="16" fill="#c0c0c0"/>
<rect x="529" y="550" width="1" height="11" fill="#c0c0c0"/>
<rect x="533" y="550" width="1" height="3" fill="#c0c0c0"/>
<rect x="537" y="548" width="1" height="3" fill="#c0c0c0"/>
<rect x="541" y="545" width="1" height="6" fill="#c0c0c0"/>
<rect x="545" y="543" width="1" height="8" fill="#c0c0c0"/>
<rect x="549" y="542" width="1" height="9" fill="#c0c0c0"/>
<rect x="553" y="541" width="1" height="10" fill="#c0c0c0"/>
<rect x="557" y="542" width="1" height="9" fill="#c0c0c0"/>
<rect x="561" y="541" width="1" height="10" fill="#c0c0c0"/>
<rect x="565" y="544" width="1" height="7" fill="#c0c0c0"/>
<rect x="569" y="546" width="1" height="5" fill="#c0c0c0"/>
<rect x="573" y="548" width="1" height="3" fill="#c0c0c0"/>
<rect x="577" y="550" width="1" height="1" fill="#c0c0c0"/>
<rect x="581" y="550" width="1" height="12" fill="#c0c0c0"/>
<rect x="585" y="550" width="1" height="20" fill="#c0c0c0"/>
<rect x="589" y="550" width="1" height="27" fill="#c0c0c0"/>
<rect x="593" y="550" width="1" height="32" fill="#c0c0c0"/>
<rect x="597" y="550" width="1" height="33" fill="#c0c0c0"/>
<rect x="601" y="550" width="1" height="33" fill="#c0c0c0"/>
<rect x="605" y="550" width="1" height="31" fill="#c0c0c0"/>
<rect x="609" y="550" width="1" height="27" fill="#c0c0c0"/>
<rect x="613" y="550" width="1" height="21" fill="#c0c0c0"/>
<rect x="617" y="550" width="1" height="18" fill="#c0c0c0"/>
<rect x="621" y="550" width="1" height="11" fill="#c0c0c0"/>
<rect x="625" y="550" width="1" height="5" fill="#c0c0c0"/>
<rect x="629" y="550" width="1" height="3" fill="#c0c0c0"/>
<rect x="633" y="550" width="1" height="2" fill="#c0c0c0"/>
<rect x="637" y="550" width="1" height="9" fill="#c0c0c0"/>
<rect x="641" y="550" width="1" height="12" fill="#c0c0c0"/>
<rect x="645" y="550" width="1" height="18" fill="#c0c0c0"/>
<rect x="649" y="550" width="1" height="21" fill="#c0c0c0"/>
<rect x="653" y="550" width="1" height="29" fill="#c0c0c0"/>
<rect x="657" y="550" width="1" height="33" fill="#c0c0c0"/>
<rect x="661" y="550" width="1" height="40" fill="#c0c0c0"/>
<rect x="665" y="550" width="1" height="45" fill="#c0c0c0"/>
<rect x="669" y="550" width="1" height="45" fill="#c0c0c0"/>
<rect x="673" y="550" width="1" height="47" fill="#c0c0c0"/>
<rect x="677" y="550" width="1" height="43" fill="#c0c0c0"/>
<rect x="681" y="550" width="1" height="39" fill="#c0c0c0"/>
<rect x="685" y="550" width="1" height="35" fill="#c0c0c0"/>
<rect x="689" y="550" width="1" height="31" fill="#c0c0c0"/>
<rect x="693" y="550" width="1" height="25" fill="#c0c0c0"/>
<rect x="697" y="550" width="1" height="19" fill="#c0c0c0"/>
<rect x="701" y="550" width="1" height="17" fill="#c0c0c0"/>
<rect x="705" y="550" width="1" height="15" fill="#c0c0c0"/>
<rect x="709" y="550" width="1" height="15" fill="#c0c0c0"/>
<rect x="713" y="550" width="1" height="14" fill="#c0c0c0"/>
<rect x="717" y="550" width="1" height="5" fill="#c0c0c0"/>
<rect x="721" y="546" width="1" height="5" fill="#c0c0c0"/>
<rect x="725" y="542" width="1" height="9" fill="#c0c0c0"/>
<rect x="729" y="538" width="1" height="13" fill="#c0c0c0"/>
<rect x="733" y="534" width="1" height="17" fill="#c0c0c0"/>
<rect x="737" y="532" width="1" height="19" fill="#c0c0c0"/>
<rect x="741" y="532" width="1" height="19" fill="#c0c0c0"/>
<rect x="745" y="533" width="1" height="18" fill="#c0c0c0"/>
<rect x="749" y="537" width="1" height="14" fill="#c0c0c0"/>
<rect x="753" y="541" width="1" height="10" fill="#c0c0c0"/>
<rect x="757" y="547" width="1" height="4" fill="#c0c0c0"/>
<rect x="761" y="550" width="1" height="1" fill="#c0c0c0"/>
<rect x="765" y="550" width="1" height="2" fill="#c0c0c0"/>
<rect x="769" y="550" width="1" height="2" fill="#c0c0c0"/>
<rect x="773" y="550" width="1" height="7" fill="#c0c0c0"/>
<rect x="777" y="550" width="1" height="15" fill="#c0c0c0"/>
<rect x="781" y="550" width="1" height="22" fill="#c0c0c0"/>
<rect x="785" y="550" width="1" height="28" fill="#c0c0c0"/>
<rect x="789" y="550" width="1" height="35" fill="#c0c0c0"/>
<rect x="793" y="550" width="1" height="39" fill="#c0c0c0"/>
<rect x="797" y="550" width="1" height="44" fill="#c0c0c0"/>
<rect x="801" y="550" width="1" height="47" fill="#c0c0c0"/>
<rect x="805" y="550" width="1" height="51" fill="#c0c0c0"/>
<rect x="809" y="550" width="1" height="56" fill="#c0c0c0"/>
<rect x="813" y="550" width="1" height="59" fill="#c0c0c0"/>
<rect x="817" y="550" width="1" height="61" fill="#c0c0c0"/>
<rect x="821" y="550" width="1" height="56" fill="#c0c0c0"/>
<rect x="825" y="550" width="1" height="50" fill="#c0c0c0"/>
<rect x="829" y="550" width="1" height="42" fill="#c0c0c0"/>
<rect x="833" y="550" width="1" height="33" fill="#c0c0c0"/>
<rect x="837" y="550" width="1" height="31" fill="#c0c0c0"/>
<rect x="841" y="550" width="1" height="29" fill="#c0c0c0"/>
<rect x="845" y="550" width="1" height="29" fill="#c0c0c0"/>
<rect x="849" y="550" width="1" height="25" fill="#c0c0c0"/>
<rect x="853" y="550" width="1" height="18" fill="#c0c0c0"/>
<rect x="857" y="550" width="1" height="11" fill="#c0c0c0"/>
<rect x="861" y="550" width="1" height="5" fill="#c0c0c0"/>
<rect x="865" y="550" width="1" height="1" fill="#c0c0c0"/>
<rect x="869" y="544" width="1" height="7" fill="#c0c0c0"/>
<rect x="873" y="536" width="1" height="15" fill="#c0c0c0"/>
<rect x="877" y="535" width="1" height="16" fill="#c0c0c0"/>
<rect x="881" y="535" width="1" height="16" fill="#c0c0c0"/>
<rect x="885" y="529" width="1" height="22" fill="#c0c0c0"/>
<rect x="889" y="526" width="1" height="25" fill="#c0c0c0"/>
<rect x="893" y="525" width="1" height="26" fill="#c0c0c0"/>
<rect x="897" y="525" width="1" height="26" fill="#c0c0c0"/>
<rect x="901" y="523" width="1" height="28" fill="#c0c0c0"/>
<rect x="905" y="522" width="1" height="29" fill="#c0c0c0"/>
<rect x="909" y="529" width="1" height="22" fill="#c0c0c0"/>
<rect x="913" y="538" width="1" height="13" fill="#c0c0c0"/>
<rect x="917" y="546" width="1" height="5" fill="#c0c0c0"/>
<rect x="921" y="550" width="1" height="1" fill="#c0c0c0"/>
<rect x="925" y="550" width="1" height="10" fill="#c0c0c0"/>
<rect x="929" y="550" width="1" height="18" fill="#c0c0c0"/>
<rect x="933" y="550" width="1" height="25" fill="#c0c0c0"/>
<rect x="937" y="550" width="1" height="29" fill="#c0c0c0"/>
<rect x="941" y="550" width="1" height="34" fill="#c0c0c0"/>
<rect x="945" y="550" width="1" height="41" fill="#c0c0c0"/>
<rect x="949" y="550" width="1" height="44" fill="#c0c0c0"/>
<rect x="953" y="550" width="1" height="48" fill="#c0c0c0"/>
<rect x="957" y="550" width="1" height="49" fill="#c0c0c0"/>
<rect x="961" y="550" width="1" height="49" fill="#c0c0c0"/>
<rect x="965" y="550" width="1" height="61" fill="#c0c0c0"/>
<rect x="969" y="550" width="1" height="70" fill="#c0c0c0"/>
<rect x="973" y="550" width="1" height="72" fill="#c0c0c0"/>
<rect x="977" y="550" width="1" height="71" fill="#c0c0c0"/>
<rect x="981" y="550" width="1" height="72" fill="#c0c0c0"/>
<rect x="985" y="550" width="1" height="73" fill="#c0c0c0"/>
<rect x="989" y="550" width="1" height="73" fill="#c0c0c0"/>
<rect x="993" y="550" width="1" height="71" fill="#c0c0c0"/>
<rect x="997" y="550" width="1" height="69" fill="#c0c0c0"/>
<rect x="1001" y="550" width="1" height="69" fill="#c0c0c0"/>
<rect x="1005" y="550" width="1" height="66" fill="#c0c0c0"/>
<rect x="1009" y="550" width="1" height="64" fill="#c0c0c0"/>
<rect x="1013" y="550" width="1" height="51" fill="#c0c0c0"/>
<rect x="1017" y="550" width="1" height="41" fill="#c0c0c0"/>
<rect x="1021" y="550" width="1" height="40" fill="#c0c0c0"/>
<rect x="1025" y="550" width="1" height="41" fill="#c0c0c0"/>
<rect x="1029" y="550" width="1" height="39" fill="#c0c0c0"/>
<rect x="1033" y="550" width="1" height="41" fill="#c0c0c0"/>
<rect x="1037" y="550" width="1" height="47" fill="#c0c0c0"/>
<rect x="1041" y="550" width="1" height="51" fill="#c0c0c0"/>
<rect x="1045" y="550" width="1" height="57" fill="#c0c0c0"/>
<rect x="1049" y="550" width="1" height="60" fill="#c0c0c0"/>
<rect x="1053" y="550" width="1" height="61" fill="#c0c0c0"/>
<rect x="1057" y="550" width="1" height="61" fill="#c0c0c0"/>
<rect x="1061" y="550" width="1" height="60" fill="#c0c0c0"/>
<rect x="1065" y="550" width="1" height="60" fill="#c0c0c0"/>
<rect x="1069" y="550" width="1" height="57" fill="#c0c0c0"/>
<rect x="1073" y="550" width="1" height="53" fill="#c0c0c0"/>
<rect x="1077" y="550" width="1" height="43" fill="#c0c0c0"/>
<rect x="1081" y="550" width="1" height="36" fill="#c0c0c0"/>
<rect x="1085" y="550" width="1" height="23" fill="#c0c0c0"/>
<rect x="1089" y="550" width="1" height="4" fill="#c0c0c0"/>
<rect x="1093" y="549" width="1" height="2" fill="#c0c0c0"/>
<rect x="1097" y="544" width="1" height="7" fill="#c0c0c0"/>
<rect x="1101" y="540" width="1" height="11" fill="#c0c0c0"/>
<rect x="1105" y="535" width="1" height="16" fill="#c0c0c0"/>
<rect x="1109" y="527" width="1" height="24" fill="#c0c0c0"/>
<rect x="1113" y="524" width="1" height="27" fill="#c0c0c0"/>
<rect x="1117" y="519" width="1" height="32" fill="#c0c0c0"/>
<rect x="1121" y="517" width="1" height="34" fill="#c0c0c0"/>
<rect x="1125" y="525" width="1" height="26" fill="#c0c0c0"/>
<rect x="1129" y="532" width="1" height="19" fill="#c0c0c0"/>
<rect x="1133" y="535" width="1" height="16" fill="#c0c0c0"/>
<rect x="1137" y="540" width="1" height="11" fill="#c0c0c0"/>
<rect x="1141" y="543" width="1" height="8" fill="#c0c0c0"/>
<rect x="1145" y="542" width="1" height="9" fill="#c0c0c0"/>
<rect x="1149" y="543" width="1" height="8" fill="#c0c0c0"/>
<rect x="1153" y="546" width="1" height="5" fill="#c0c0c0"/>
<rect x="1157" y="546" width="1" height="5" fill="#c0c0c0"/>
<rect x="1161" y="543" width="1" height="8" fill="#c0c0c0"/>
<rect x="1165" y="538" width="1" height="13" fill="#c0c0c0"/>
<rect x="1169" y="536" width="1" height="15" fill="#c0c0c0"/>
<rect x="1173" y="532" width="1" height="19" fill="#c0c0c0"/>
<rect x="1177" y="529" width="1" height="22" fill="#c0c0c0"/>
<rect x="1181" y="533" width="1" height="18" fill="#c0c0c0"/>
<rect x="1185" y="536" width="1" height="15" fill="#c0c0c0"/>
<rect x="1189" y="539" width="1" height="12" fill="#c0c0c0"/>
<rect x="1193" y="540" width="1" height="11" fill="#c0c0c0"/>
<rect x="1197" y="541" width="1" height="10" fill="#c0c0c0"/>
<rect x="1201" y="541" width="1" height="10" fill="#c0c0c0"/>
<rect x="1205" y="542" width="1" height="9" fill="#c0c0c0"/>
<rect x="1209" y="543" width="1" height="8" fill="#c0c0c0"/>
<rect x="1213" y="539" width="1" height="12" fill="#c0c0c0"/>
<rect x="1217" y="534" width="1" height="17" fill="#c0c0c0"/>
<rect x="1221" y="531" width="1" height="20" fill="#c0c0c0"/>
<rect x="1225" y="531" width="1" height="20" fill="#c0c0c0"/>
<rect x="1229" y="527" width="1" height="24" fill="#c0c0c0"/>
<rect x="1233" y="523" width="1" height="28" fill="#c0c0c0"/>
<rect x="1237" y="520" width="1" height="31" fill="#c0c0c0"/>
<rect x="1241" y="520" width="1" height="31" fill="#c0c0c0"/>
<rect x="1245" y="519" width="1" height="32" fill="#c0c0c0"/>
<rect x="1249" y="519" width="1" height="32" fill="#c0c0c0"/>
<rect x="1253" y="511" width="1" height="40" fill="#c0c0c0"/>
<rect x="1257" y="505" width="1" height="46" fill="#c0c0c0"/>
<rect x="1261" y="502" width="1" height="49" fill="#c0c0c0"/>
<rect x="1265" y="500" width="1" height="51" fill="#c0c0c0"/>
<rect x="1269" y="503" width="1" height="48" fill="#c0c0c0"/>
<rect x="1273" y="507" width="1" height="44" fill="#c0c0c0"/>
<rect x="1277" y="519" width="1" height="32" fill="#c0c0c0"/>
<rect x="1281" y="528" width="1" height="23" fill="#c0c0c0"/>
<rect x="1285" y="534" width="1" height="17" fill="#c0c0c0"/>
<rect x="1289" y="541" width="1" height="10" fill="#c0c0c0"/>
<rect x="1293" y="550" width="1" height="1" fill="#c0c0c0"/>
<rect x="1297" y="550" width="1" height="9" fill="#c0c0c0"/>
<rect x="1301" y="550" width="1" height="15" fill="#c0c0c0"/>
<rect x="1305" y="550" width="1" height="21" fill="#c0c0c0"/>
<rect x="1309" y="550" width="1" height="18" fill="#c0c0c0"/>
<rect x="1313" y="550" width="1" height="15" fill="#c0c0c0"/>
<rect x="1317" y="550" width="1" height="9" fill="#c0c0c0"/>
<rect x="1321" y="550" width="1" height="4" fill="#c0c0c0"/>
<rect x="1325" y="550" width="1" height="5" fill="#c0c0c0"/>
<rect x="1329" y="550" width="1" height="7" fill="#c0c0c0"/>
<rect x="1333" y="550" width="1" height="8" fill="#c0c0c0"/>
<rect x="1337" y="550" width="1" height="9" fill="#c0c0c0"/>
<rect x="1341" y="550" width="1" height="10" fill="#c0c0c0"/>
<rect x="1345" y="550" width="1" height="15" fill="#c0c0c0"/>
<rect x="1349" y="550" width="1" height="16" fill="#c0c0c0"/>
<rect x="1353" y="550" width="1" height="17" fill="#c0c0c0"/>
<rect x="1357" y="550" width="1" height="21" fill="#c0c0c0"/>
<rect x="1361" y="550" width="1" height="25" fill="#c0c0c0"/>
<rect x="1365" y="550" width="1" height="27" fill="#c0c0c0"/>
<rect x="1369" y="550" width="1" height="27" fill="#c0c0c0"/>
<rect x="1373" y="550" width="1" height="27" fill="#c0c0c0"/>
<rect x="1377" y="550" width="1" height="24" fill="#c0c0c0"/>
<polyline points="5,550 8.75,552 12.5,553 18.75,553 24.4,554.4 30,553 36,552 42.5,553 48,555 53.75,557.5 60,560 66,561.5 72.5,562.5 78,562 83.75,560 90,559.4 96,559.4 102,560 107.5,562.5 113.75,564.4 120,565.4 125,563.75 130,560 135.6,555 141,548.75 145,541.9 149.4,535.6 153,530 158,523 163.5,518.5 169.75,516 176,515.4 182.25,516.25 188.5,518 194.75,521.25 200.4,524.4 206,528 212.25,531.9 217.9,536.25 224,541.25 230.4,547.25 236,553 242.25,558 248,562.25 254,565.25 260.4,565.25 266,562.5 271.6,556.9 277.25,550 282.25,543.75 287.25,538 292.9,533 298.5,529.4 304.75,528.5 309,529 313.6,529.5 318.5,531.6 323.4,536 330,542.5 334,548.7 338,554.8 344.5,566 348.6,572.7 353.5,583 359.2,589.75 364,597 368,602.8 373,607.7 378.7,612.5 386,618 391.75,622.3 397.4,626.9 403,630 409.7,632 416,633.7 421.9,633.4 427.6,632.4 433,630 440.6,626.4 447,620.7 453.6,614 459.3,604.4 464.2,597 469,591 474,585 480.5,580.6 486.75,577.5 492,575 498,574 504,573.5 510.5,574.4 516,575 521.75,575.6 528,573.75 534,570 540.5,565.6 546,559.4 552.4,553 558,547.5 564,543.75 570.5,542.5 576.75,543 582.4,546 588,550.6 593,557 598.6,563 604,569.4 610,573.75 616.75,576.25 623,574.4 627.75,571.25 640,561 646.5,560 652.75,561 659,565.6 664,571 669,577 674,583 679,586 686.5,589 692,588.5 697.75,585 704,580 710,575 716.5,570 722.75,564.4 727.75,558.75 732.75,552.5 739,547 745,541 750,537.5 756.5,536 762.75,538 769,541 775,545.6 781.5,552 790.5,562.8 799.5,574 808.5,586 816,595 823.6,600.4 832.6,599.6 843,593 850.6,587 859.6,575.6 870,563.6 879,552 888,539.6 897,533.5 904.7,527.5 912,526.8 919.7,529.8 927,537.3 934.7,545.6 942,560.6 946.5,566.6 950.3,572.6 954,578.6 958.5,583.9 963.8,590.6 968.3,596 974.3,602.7 980.3,608.7 986.3,613.2 992.3,617 1000.6,620.4 1008,619.2 1015.6,614 1023,608.7 1029,602.7 1036.7,597.4 1045.7,594.8 1053,598 1059,601 1065,604 1074,606.4 1082.5,602.6 1089,595 1094.3,585 1098,578.4 1101,572.4 1104,566.4 1107,560.4 1110,554.3 1113,548.3 1116,542.3 1119.8,536.3 1124.3,531 1130.3,528 1136.3,527.3 1142.3,528.8 1148.3,531.8 1154.3,536.3 1160.4,540 1166.4,541.6 1172.4,540.5 1178.4,539 1184.4,537.5 1190.4,536.3 1197,535.6 1203,535.6 1209,537.8 1215,538.6 1221.2,538.6 1227.2,536.3 1233.2,533.3 1239.2,530.3 1245.2,526.9 1250.3,523 1256,519.4 1262,514.4 1268.4,510.6 1274,509 1280.3,508.8 1286.5,512.5 1291.5,518 1296,524.4 1299,530.6 1302.8,536.3 1306.5,542.5 1309.6,548 1314.6,553.8 1320.3,558 1326.5,560 1332.8,561 1339,559.8 1344.6,559.4 1351,559.4 1356.5,560.6 1362,564.4 1368.4,567.5 1374.6,570.4 1377,571.9" fill="none" stroke="#ff0000" stroke-width="1" stroke-dasharray="3,3" shape-rendering="crispEdges"/>
</svg>
<text x="9" y="503" font-size="9.5" fill="#000" text-anchor="start" letter-spacing="-0.15">MACD(12,26,9) -154.45 -141.33</text>
<svg x="5" y="649" width="1572" height="129" viewBox="5 649 1572 129" overflow="hidden">
<rect x="6" y="675" width="3" height="1" fill="#a0a0a0"/>
<rect x="12" y="675" width="3" height="1" fill="#a0a0a0"/>
<rect x="18" y="675" width="3" height="1" fill="#a0a0a0"/>
<rect x="24" y="675" width="3" height="1" fill="#a0a0a0"/>
<rect x="30" y="675" width="3" height="1" fill="#a0a0a0"/>
<rect x="36" y="675" width="3" height="1" fill="#a0a0a0"/>
<rect x="42" y="675" width="3" height="1" fill="#a0a0a0"/>
<rect x="48" y="675" width="3" height="1" fill="#a0a0a0"/>
<rect x="54" y="675" width="3" height="1" fill="#a0a0a0"/>
<rect x="60" y="675" width="3" height="1" fill="#a0a0a0"/>
<rect x="66" y="675" width="3" height="1" fill="#a0a0a0"/>
<rect x="72" y="675" width="3" height="1" fill="#a0a0a0"/>
<rect x="78" y="675" width="3" height="1" fill="#a0a0a0"/>
<rect x="84" y="675" width="3" height="1" fill="#a0a0a0"/>
<rect x="90" y="675" width="3" height="1" fill="#a0a0a0"/>
<rect x="96" y="675" width="3" height="1" fill="#a0a0a0"/>
<rect x="102" y="675" width="3" height="1" fill="#a0a0a0"/>
<rect x="108" y="675" width="3" height="1" fill="#a0a0a0"/>
<rect x="114" y="675" width="3" height="1" fill="#a0a0a0"/>
<rect x="120" y="675" width="3" height="1" fill="#a0a0a0"/>
<rect x="126" y="675" width="3" height="1" fill="#a0a0a0"/>
<rect x="132" y="675" width="3" height="1" fill="#a0a0a0"/>
<rect x="138" y="675" width="3" height="1" fill="#a0a0a0"/>
<rect x="144" y="675" width="3" height="1" fill="#a0a0a0"/>
<rect x="150" y="675" width="3" height="1" fill="#a0a0a0"/>
<rect x="156" y="675" width="3" height="1" fill="#a0a0a0"/>
<rect x="162" y="675" width="3" height="1" fill="#a0a0a0"/>
<rect x="168" y="675" width="3" height="1" fill="#a0a0a0"/>
<rect x="174" y="675" width="3" height="1" fill="#a0a0a0"/>
<rect x="180" y="675" width="3" height="1" fill="#a0a0a0"/>
<rect x="186" y="675" width="3" height="1" fill="#a0a0a0"/>
<rect x="192" y="675" width="3" height="1" fill="#a0a0a0"/>
<rect x="198" y="675" width="3" height="1" fill="#a0a0a0"/>
<rect x="204" y="675" width="3" height="1" fill="#a0a0a0"/>
<rect x="210" y="675" width="3" height="1" fill="#a0a0a0"/>
<rect x="216" y="675" width="3" height="1" fill="#a0a0a0"/>
<rect x="222" y="675" width="3" height="1" fill="#a0a0a0"/>
<rect x="228" y="675" width="3" height="1" fill="#a0a0a0"/>
<rect x="234" y="675" width="3" height="1" fill="#a0a0a0"/>
<rect x="240" y="675" width="3" height="1" fill="#a0a0a0"/>
<rect x="246" y="675" width="3" height="1" fill="#a0a0a0"/>
<rect x="252" y="675" width="3" height="1" fill="#a0a0a0"/>
<rect x="258" y="675" width="3" height="1" fill="#a0a0a0"/>
<rect x="264" y="675" width="3" height="1" fill="#a0a0a0"/>
<rect x="270" y="675" width="3" height="1" fill="#a0a0a0"/>
<rect x="276" y="675" width="3" height="1" fill="#a0a0a0"/>
<rect x="282" y="675" width="3" height="1" fill="#a0a0a0"/>
<rect x="288" y="675" width="3" height="1" fill="#a0a0a0"/>
<rect x="294" y="675" width="3" height="1" fill="#a0a0a0"/>
<rect x="300" y="675" width="3" height="1" fill="#a0a0a0"/>
<rect x="306" y="675" width="3" height="1" fill="#a0a0a0"/>
<rect x="312" y="675" width="3" height="1" fill="#a0a0a0"/>
<rect x="318" y="675" width="3" height="1" fill="#a0a0a0"/>
<rect x="324" y="675" width="3" height="1" fill="#a0a0a0"/>
<rect x="330" y="675" width="3" height="1" fill="#a0a0a0"/>
<rect x="336" y="675" width="3" height="1" fill="#a0a0a0"/>
<rect x="342" y="675" width="3" height="1" fill="#a0a0a0"/>
<rect x="348" y="675" width="3" height="1" fill="#a0a0a0"/>
<rect x="354" y="675" width="3" height="1" fill="#a0a0a0"/>
<rect x="360" y="675" width="3" height="1" fill="#a0a0a0"/>
<rect x="366" y="675" width="3" height="1" fill="#a0a0a0"/>
<rect x="372" y="675" width="3" height="1" fill="#a0a0a0"/>
<rect x="378" y="675" width="3" height="1" fill="#a0a0a0"/>
<rect x="384" y="675" width="3" height="1" fill="#a0a0a0"/>
<rect x="390" y="675" width="3" height="1" fill="#a0a0a0"/>
<rect x="396" y="675" width="3" height="1" fill="#a0a0a0"/>
<rect x="402" y="675" width="3" height="1" fill="#a0a0a0"/>
<rect x="408" y="675" width="3" height="1" fill="#a0a0a0"/>
<rect x="414" y="675" width="3" height="1" fill="#a0a0a0"/>
<rect x="420" y="675" width="3" height="1" fill="#a0a0a0"/>
<rect x="426" y="675" width="3" height="1" fill="#a0a0a0"/>
<rect x="432" y="675" width="3" height="1" fill="#a0a0a0"/>
<rect x="438" y="675" width="3" height="1" fill="#a0a0a0"/>
<rect x="444" y="675" width="3" height="1" fill="#a0a0a0"/>
<rect x="450" y="675" width="3" height="1" fill="#a0a0a0"/>
<rect x="456" y="675" width="3" height="1" fill="#a0a0a0"/>
<rect x="462" y="675" width="3" height="1" fill="#a0a0a0"/>
<rect x="468" y="675" width="3" height="1" fill="#a0a0a0"/>
<rect x="474" y="675" width="3" height="1" fill="#a0a0a0"/>
<rect x="480" y="675" width="3" height="1" fill="#a0a0a0"/>
<rect x="486" y="675" width="3" height="1" fill="#a0a0a0"/>
<rect x="492" y="675" width="3" height="1" fill="#a0a0a0"/>
<rect x="498" y="675" width="3" height="1" fill="#a0a0a0"/>
<rect x="504" y="675" width="3" height="1" fill="#a0a0a0"/>
<rect x="510" y="675" width="3" height="1" fill="#a0a0a0"/>
<rect x="516" y="675" width="3" height="1" fill="#a0a0a0"/>
<rect x="522" y="675" width="3" height="1" fill="#a0a0a0"/>
<rect x="528" y="675" width="3" height="1" fill="#a0a0a0"/>
<rect x="534" y="675" width="3" height="1" fill="#a0a0a0"/>
<rect x="540" y="675" width="3" height="1" fill="#a0a0a0"/>
<rect x="546" y="675" width="3" height="1" fill="#a0a0a0"/>
<rect x="552" y="675" width="3" height="1" fill="#a0a0a0"/>
<rect x="558" y="675" width="3" height="1" fill="#a0a0a0"/>
<rect x="564" y="675" width="3" height="1" fill="#a0a0a0"/>
<rect x="570" y="675" width="3" height="1" fill="#a0a0a0"/>
<rect x="576" y="675" width="3" height="1" fill="#a0a0a0"/>
<rect x="582" y="675" width="3" height="1" fill="#a0a0a0"/>
<rect x="588" y="675" width="3" height="1" fill="#a0a0a0"/>
<rect x="594" y="675" width="3" height="1" fill="#a0a0a0"/>
<rect x="600" y="675" width="3" height="1" fill="#a0a0a0"/>
<rect x="606" y="675" width="3" height="1" fill="#a0a0a0"/>
<rect x="612" y="675" width="3" height="1" fill="#a0a0a0"/>
<rect x="618" y="675" width="3" height="1" fill="#a0a0a0"/>
<rect x="624" y="675" width="3" height="1" fill="#a0a0a0"/>
<rect x="630" y="675" width="3" height="1" fill="#a0a0a0"/>
<rect x="636" y="675" width="3" height="1" fill="#a0a0a0"/>
<rect x="642" y="675" width="3" height="1" fill="#a0a0a0"/>
<rect x="648" y="675" width="3" height="1" fill="#a0a0a0"/>
<rect x="654" y="675" width="3" height="1" fill="#a0a0a0"/>
<rect x="660" y="675" width="3" height="1" fill="#a0a0a0"/>
<rect x="666" y="675" width="3" height="1" fill="#a0a0a0"/>
<rect x="672" y="675" width="3" height="1" fill="#a0a0a0"/>
<rect x="678" y="675" width="3" height="1" fill="#a0a0a0"/>
<rect x="684" y="675" width="3" height="1" fill="#a0a0a0"/>
<rect x="690" y="675" width="3" height="1" fill="#a0a0a0"/>
<rect x="696" y="675" width="3" height="1" fill="#a0a0a0"/>
<rect x="702" y="675" width="3" height="1" fill="#a0a0a0"/>
<rect x="708" y="675" width="3" height="1" fill="#a0a0a0"/>
<rect x="714" y="675" width="3" height="1" fill="#a0a0a0"/>
<rect x="720" y="675" width="3" height="1" fill="#a0a0a0"/>
<rect x="726" y="675" width="3" height="1" fill="#a0a0a0"/>
<rect x="732" y="675" width="3" height="1" fill="#a0a0a0"/>
<rect x="738" y="675" width="3" height="1" fill="#a0a0a0"/>
<rect x="744" y="675" width="3" height="1" fill="#a0a0a0"/>
<rect x="750" y="675" width="3" height="1" fill="#a0a0a0"/>
<rect x="756" y="675" width="3" height="1" fill="#a0a0a0"/>
<rect x="762" y="675" width="3" height="1" fill="#a0a0a0"/>
<rect x="768" y="675" width="3" height="1" fill="#a0a0a0"/>
<rect x="774" y="675" width="3" height="1" fill="#a0a0a0"/>
<rect x="780" y="675" width="3" height="1" fill="#a0a0a0"/>
<rect x="786" y="675" width="3" height="1" fill="#a0a0a0"/>
<rect x="792" y="675" width="3" height="1" fill="#a0a0a0"/>
<rect x="798" y="675" width="3" height="1" fill="#a0a0a0"/>
<rect x="804" y="675" width="3" height="1" fill="#a0a0a0"/>
<rect x="810" y="675" width="3" height="1" fill="#a0a0a0"/>
<rect x="816" y="675" width="3" height="1" fill="#a0a0a0"/>
<rect x="822" y="675" width="3" height="1" fill="#a0a0a0"/>
<rect x="828" y="675" width="3" height="1" fill="#a0a0a0"/>
<rect x="834" y="675" width="3" height="1" fill="#a0a0a0"/>
<rect x="840" y="675" width="3" height="1" fill="#a0a0a0"/>
<rect x="846" y="675" width="3" height="1" fill="#a0a0a0"/>
<rect x="852" y="675" width="3" height="1" fill="#a0a0a0"/>
<rect x="858" y="675" width="3" height="1" fill="#a0a0a0"/>
<rect x="864" y="675" width="3" height="1" fill="#a0a0a0"/>
<rect x="870" y="675" width="3" height="1" fill="#a0a0a0"/>
<rect x="876" y="675" width="3" height="1" fill="#a0a0a0"/>
<rect x="882" y="675" width="3" height="1" fill="#a0a0a0"/>
<rect x="888" y="675" width="3" height="1" fill="#a0a0a0"/>
<rect x="894" y="675" width="3" height="1" fill="#a0a0a0"/>
<rect x="900" y="675" width="3" height="1" fill="#a0a0a0"/>
<rect x="906" y="675" width="3" height="1" fill="#a0a0a0"/>
<rect x="912" y="675" width="3" height="1" fill="#a0a0a0"/>
<rect x="918" y="675" width="3" height="1" fill="#a0a0a0"/>
<rect x="924" y="675" width="3" height="1" fill="#a0a0a0"/>
<rect x="930" y="675" width="3" height="1" fill="#a0a0a0"/>
<rect x="936" y="675" width="3" height="1" fill="#a0a0a0"/>
<rect x="942" y="675" width="3" height="1" fill="#a0a0a0"/>
<rect x="948" y="675" width="3" height="1" fill="#a0a0a0"/>
<rect x="954" y="675" width="3" height="1" fill="#a0a0a0"/>
<rect x="960" y="675" width="3" height="1" fill="#a0a0a0"/>
<rect x="966" y="675" width="3" height="1" fill="#a0a0a0"/>
<rect x="972" y="675" width="3" height="1" fill="#a0a0a0"/>
<rect x="978" y="675" width="3" height="1" fill="#a0a0a0"/>
<rect x="984" y="675" width="3" height="1" fill="#a0a0a0"/>
<rect x="990" y="675" width="3" height="1" fill="#a0a0a0"/>
<rect x="996" y="675" width="3" height="1" fill="#a0a0a0"/>
<rect x="1002" y="675" width="3" height="1" fill="#a0a0a0"/>
<rect x="1008" y="675" width="3" height="1" fill="#a0a0a0"/>
<rect x="1014" y="675" width="3" height="1" fill="#a0a0a0"/>
<rect x="1020" y="675" width="3" height="1" fill="#a0a0a0"/>
<rect x="1026" y="675" width="3" height="1" fill="#a0a0a0"/>
<rect x="1032" y="675" width="3" height="1" fill="#a0a0a0"/>
<rect x="1038" y="675" width="3" height="1" fill="#a0a0a0"/>
<rect x="1044" y="675" width="3" height="1" fill="#a0a0a0"/>
<rect x="1050" y="675" width="3" height="1" fill="#a0a0a0"/>
<rect x="1056" y="675" width="3" height="1" fill="#a0a0a0"/>
<rect x="1062" y="675" width="3" height="1" fill="#a0a0a0"/>
<rect x="1068" y="675" width="3" height="1" fill="#a0a0a0"/>
<rect x="1074" y="675" width="3" height="1" fill="#a0a0a0"/>
<rect x="1080" y="675" width="3" height="1" fill="#a0a0a0"/>
<rect x="1086" y="675" width="3" height="1" fill="#a0a0a0"/>
<rect x="1092" y="675" width="3" height="1" fill="#a0a0a0"/>
<rect x="1098" y="675" width="3" height="1" fill="#a0a0a0"/>
<rect x="1104" y="675" width="3" height="1" fill="#a0a0a0"/>
<rect x="1110" y="675" width="3" height="1" fill="#a0a0a0"/>
<rect x="1116" y="675" width="3" height="1" fill="#a0a0a0"/>
<rect x="1122" y="675" width="3" height="1" fill="#a0a0a0"/>
<rect x="1128" y="675" width="3" height="1" fill="#a0a0a0"/>
<rect x="1134" y="675" width="3" height="1" fill="#a0a0a0"/>
<rect x="1140" y="675" width="3" height="1" fill="#a0a0a0"/>
<rect x="1146" y="675" width="3" height="1" fill="#a0a0a0"/>
<rect x="1152" y="675" width="3" height="1" fill="#a0a0a0"/>
<rect x="1158" y="675" width="3" height="1" fill="#a0a0a0"/>
<rect x="1164" y="675" width="3" height="1" fill="#a0a0a0"/>
<rect x="1170" y="675" width="3" height="1" fill="#a0a0a0"/>
<rect x="1176" y="675" width="3" height="1" fill="#a0a0a0"/>
<rect x="1182" y="675" width="3" height="1" fill="#a0a0a0"/>
<rect x="1188" y="675" width="3" height="1" fill="#a0a0a0"/>
<rect x="1194" y="675" width="3" height="1" fill="#a0a0a0"/>
<rect x="1200" y="675" width="3" height="1" fill="#a0a0a0"/>
<rect x="1206" y="675" width="3" height="1" fill="#a0a0a0"/>
<rect x="1212" y="675" width="3" height="1" fill="#a0a0a0"/>
<rect x="1218" y="675" width="3" height="1" fill="#a0a0a0"/>
<rect x="1224" y="675" width="3" height="1" fill="#a0a0a0"/>
<rect x="1230" y="675" width="3" height="1" fill="#a0a0a0"/>
<rect x="1236" y="675" width="3" height="1" fill="#a0a0a0"/>
<rect x="1242" y="675" width="3" height="1" fill="#a0a0a0"/>
<rect x="1248" y="675" width="3" height="1" fill="#a0a0a0"/>
<rect x="1254" y="675" width="3" height="1" fill="#a0a0a0"/>
<rect x="1260" y="675" width="3" height="1" fill="#a0a0a0"/>
<rect x="1266" y="675" width="3" height="1" fill="#a0a0a0"/>
<rect x="1272" y="675" width="3" height="1" fill="#a0a0a0"/>
<rect x="1278" y="675" width="3" height="1" fill="#a0a0a0"/>
<rect x="1284" y="675" width="3" height="1" fill="#a0a0a0"/>
<rect x="1290" y="675" width="3" height="1" fill="#a0a0a0"/>
<rect x="1296" y="675" width="3" height="1" fill="#a0a0a0"/>
<rect x="1302" y="675" width="3" height="1" fill="#a0a0a0"/>
<rect x="1308" y="675" width="3" height="1" fill="#a0a0a0"/>
<rect x="1314" y="675" width="3" height="1" fill="#a0a0a0"/>
<rect x="1320" y="675" width="3" height="1" fill="#a0a0a0"/>
<rect x="1326" y="675" width="3" height="1" fill="#a0a0a0"/>
<rect x="1332" y="675" width="3" height="1" fill="#a0a0a0"/>
<rect x="1338" y="675" width="3" height="1" fill="#a0a0a0"/>
<rect x="1344" y="675" width="3" height="1" fill="#a0a0a0"/>
<rect x="1350" y="675" width="3" height="1" fill="#a0a0a0"/>
<rect x="1356" y="675" width="3" height="1" fill="#a0a0a0"/>
<rect x="1362" y="675" width="3" height="1" fill="#a0a0a0"/>
<rect x="1368" y="675" width="3" height="1" fill="#a0a0a0"/>
<rect x="1374" y="675" width="3" height="1" fill="#a0a0a0"/>
<rect x="1380" y="675" width="3" height="1" fill="#a0a0a0"/>
<rect x="1386" y="675" width="3" height="1" fill="#a0a0a0"/>
<rect x="1392" y="675" width="3" height="1" fill="#a0a0a0"/>
<rect x="1398" y="675" width="3" height="1" fill="#a0a0a0"/>
<rect x="1404" y="675" width="3" height="1" fill="#a0a0a0"/>
<rect x="1410" y="675" width="3" height="1" fill="#a0a0a0"/>
<rect x="1416" y="675" width="3" height="1" fill="#a0a0a0"/>
<rect x="1422" y="675" width="3" height="1" fill="#a0a0a0"/>
<rect x="1428" y="675" width="3" height="1" fill="#a0a0a0"/>
<rect x="1434" y="675" width="3" height="1" fill="#a0a0a0"/>
<rect x="1440" y="675" width="3" height="1" fill="#a0a0a0"/>
<rect x="1446" y="675" width="3" height="1" fill="#a0a0a0"/>
<rect x="1452" y="675" width="3" height="1" fill="#a0a0a0"/>
<rect x="1458" y="675" width="3" height="1" fill="#a0a0a0"/>
<rect x="1464" y="675" width="3" height="1" fill="#a0a0a0"/>
<rect x="1470" y="675" width="3" height="1" fill="#a0a0a0"/>
<rect x="1476" y="675" width="3" height="1" fill="#a0a0a0"/>
<rect x="1482" y="675" width="3" height="1" fill="#a0a0a0"/>
<rect x="1488" y="675" width="3" height="1" fill="#a0a0a0"/>
<rect x="1494" y="675" width="3" height="1" fill="#a0a0a0"/>
<rect x="1500" y="675" width="3" height="1" fill="#a0a0a0"/>
<rect x="1506" y="675" width="3" height="1" fill="#a0a0a0"/>
<rect x="1512" y="675" width="3" height="1" fill="#a0a0a0"/>
<rect x="1518" y="675" width="3" height="1" fill="#a0a0a0"/>
<rect x="1524" y="675" width="3" height="1" fill="#a0a0a0"/>
<rect x="1530" y="675" width="3" height="1" fill="#a0a0a0"/>
<rect x="1536" y="675" width="3" height="1" fill="#a0a0a0"/>
<rect x="1542" y="675" width="3" height="1" fill="#a0a0a0"/>
<rect x="1548" y="675" width="3" height="1" fill="#a0a0a0"/>
<rect x="1554" y="675" width="3" height="1" fill="#a0a0a0"/>
<rect x="1560" y="675" width="3" height="1" fill="#a0a0a0"/>
<rect x="1566" y="675" width="3" height="1" fill="#a0a0a0"/>
<rect x="1572" y="675" width="3" height="1" fill="#a0a0a0"/>
<rect x="6" y="713" width="3" height="1" fill="#a0a0a0"/>
<rect x="12" y="713" width="3" height="1" fill="#a0a0a0"/>
<rect x="18" y="713" width="3" height="1" fill="#a0a0a0"/>
<rect x="24" y="713" width="3" height="1" fill="#a0a0a0"/>
<rect x="30" y="713" width="3" height="1" fill="#a0a0a0"/>
<rect x="36" y="713" width="3" height="1" fill="#a0a0a0"/>
<rect x="42" y="713" width="3" height="1" fill="#a0a0a0"/>
<rect x="48" y="713" width="3" height="1" fill="#a0a0a0"/>
<rect x="54" y="713" width="3" height="1" fill="#a0a0a0"/>
<rect x="60" y="713" width="3" height="1" fill="#a0a0a0"/>
<rect x="66" y="713" width="3" height="1" fill="#a0a0a0"/>
<rect x="72" y="713" width="3" height="1" fill="#a0a0a0"/>
<rect x="78" y="713" width="3" height="1" fill="#a0a0a0"/>
<rect x="84" y="713" width="3" height="1" fill="#a0a0a0"/>
<rect x="90" y="713" width="3" height="1" fill="#a0a0a0"/>
<rect x="96" y="713" width="3" height="1" fill="#a0a0a0"/>
<rect x="102" y="713" width="3" height="1" fill="#a0a0a0"/>
<rect x="108" y="713" width="3" height="1" fill="#a0a0a0"/>
<rect x="114" y="713" width="3" height="1" fill="#a0a0a0"/>
<rect x="120" y="713" width="3" height="1" fill="#a0a0a0"/>
<rect x="126" y="713" width="3" height="1" fill="#a0a0a0"/>
<rect x="132" y="713" width="3" height="1" fill="#a0a0a0"/>
<rect x="138" y="713" width="3" height="1" fill="#a0a0a0"/>
<rect x="144" y="713" width="3" height="1" fill="#a0a0a0"/>
<rect x="150" y="713" width="3" height="1" fill="#a0a0a0"/>
<rect x="156" y="713" width="3" height="1" fill="#a0a0a0"/>
<rect x="162" y="713" width="3" height="1" fill="#a0a0a0"/>
<rect x="168" y="713" width="3" height="1" fill="#a0a0a0"/>
<rect x="174" y="713" width="3" height="1" fill="#a0a0a0"/>
<rect x="180" y="713" width="3" height="1" fill="#a0a0a0"/>
<rect x="186" y="713" width="3" height="1" fill="#a0a0a0"/>
<rect x="192" y="713" width="3" height="1" fill="#a0a0a0"/>
<rect x="198" y="713" width="3" height="1" fill="#a0a0a0"/>
<rect x="204" y="713" width="3" height="1" fill="#a0a0a0"/>
<rect x="210" y="713" width="3" height="1" fill="#a0a0a0"/>
<rect x="216" y="713" width="3" height="1" fill="#a0a0a0"/>
<rect x="222" y="713" width="3" height="1" fill="#a0a0a0"/>
<rect x="228" y="713" width="3" height="1" fill="#a0a0a0"/>
<rect x="234" y="713" width="3" height="1" fill="#a0a0a0"/>
<rect x="240" y="713" width="3" height="1" fill="#a0a0a0"/>
<rect x="246" y="713" width="3" height="1" fill="#a0a0a0"/>
<rect x="252" y="713" width="3" height="1" fill="#a0a0a0"/>
<rect x="258" y="713" width="3" height="1" fill="#a0a0a0"/>
<rect x="264" y="713" width="3" height="1" fill="#a0a0a0"/>
<rect x="270" y="713" width="3" height="1" fill="#a0a0a0"/>
<rect x="276" y="713" width="3" height="1" fill="#a0a0a0"/>
<rect x="282" y="713" width="3" height="1" fill="#a0a0a0"/>
<rect x="288" y="713" width="3" height="1" fill="#a0a0a0"/>
<rect x="294" y="713" width="3" height="1" fill="#a0a0a0"/>
<rect x="300" y="713" width="3" height="1" fill="#a0a0a0"/>
<rect x="306" y="713" width="3" height="1" fill="#a0a0a0"/>
<rect x="312" y="713" width="3" height="1" fill="#a0a0a0"/>
<rect x="318" y="713" width="3" height="1" fill="#a0a0a0"/>
<rect x="324" y="713" width="3" height="1" fill="#a0a0a0"/>
<rect x="330" y="713" width="3" height="1" fill="#a0a0a0"/>
<rect x="336" y="713" width="3" height="1" fill="#a0a0a0"/>
<rect x="342" y="713" width="3" height="1" fill="#a0a0a0"/>
<rect x="348" y="713" width="3" height="1" fill="#a0a0a0"/>
<rect x="354" y="713" width="3" height="1" fill="#a0a0a0"/>
<rect x="360" y="713" width="3" height="1" fill="#a0a0a0"/>
<rect x="366" y="713" width="3" height="1" fill="#a0a0a0"/>
<rect x="372" y="713" width="3" height="1" fill="#a0a0a0"/>
<rect x="378" y="713" width="3" height="1" fill="#a0a0a0"/>
<rect x="384" y="713" width="3" height="1" fill="#a0a0a0"/>
<rect x="390" y="713" width="3" height="1" fill="#a0a0a0"/>
<rect x="396" y="713" width="3" height="1" fill="#a0a0a0"/>
<rect x="402" y="713" width="3" height="1" fill="#a0a0a0"/>
<rect x="408" y="713" width="3" height="1" fill="#a0a0a0"/>
<rect x="414" y="713" width="3" height="1" fill="#a0a0a0"/>
<rect x="420" y="713" width="3" height="1" fill="#a0a0a0"/>
<rect x="426" y="713" width="3" height="1" fill="#a0a0a0"/>
<rect x="432" y="713" width="3" height="1" fill="#a0a0a0"/>
<rect x="438" y="713" width="3" height="1" fill="#a0a0a0"/>
<rect x="444" y="713" width="3" height="1" fill="#a0a0a0"/>
<rect x="450" y="713" width="3" height="1" fill="#a0a0a0"/>
<rect x="456" y="713" width="3" height="1" fill="#a0a0a0"/>
<rect x="462" y="713" width="3" height="1" fill="#a0a0a0"/>
<rect x="468" y="713" width="3" height="1" fill="#a0a0a0"/>
<rect x="474" y="713" width="3" height="1" fill="#a0a0a0"/>
<rect x="480" y="713" width="3" height="1" fill="#a0a0a0"/>
<rect x="486" y="713" width="3" height="1" fill="#a0a0a0"/>
<rect x="492" y="713" width="3" height="1" fill="#a0a0a0"/>
<rect x="498" y="713" width="3" height="1" fill="#a0a0a0"/>
<rect x="504" y="713" width="3" height="1" fill="#a0a0a0"/>
<rect x="510" y="713" width="3" height="1" fill="#a0a0a0"/>
<rect x="516" y="713" width="3" height="1" fill="#a0a0a0"/>
<rect x="522" y="713" width="3" height="1" fill="#a0a0a0"/>
<rect x="528" y="713" width="3" height="1" fill="#a0a0a0"/>
<rect x="534" y="713" width="3" height="1" fill="#a0a0a0"/>
<rect x="540" y="713" width="3" height="1" fill="#a0a0a0"/>
<rect x="546" y="713" width="3" height="1" fill="#a0a0a0"/>
<rect x="552" y="713" width="3" height="1" fill="#a0a0a0"/>
<rect x="558" y="713" width="3" height="1" fill="#a0a0a0"/>
<rect x="564" y="713" width="3" height="1" fill="#a0a0a0"/>
<rect x="570" y="713" width="3" height="1" fill="#a0a0a0"/>
<rect x="576" y="713" width="3" height="1" fill="#a0a0a0"/>
<rect x="582" y="713" width="3" height="1" fill="#a0a0a0"/>
<rect x="588" y="713" width="3" height="1" fill="#a0a0a0"/>
<rect x="594" y="713" width="3" height="1" fill="#a0a0a0"/>
<rect x="600" y="713" width="3" height="1" fill="#a0a0a0"/>
<rect x="606" y="713" width="3" height="1" fill="#a0a0a0"/>
<rect x="612" y="713" width="3" height="1" fill="#a0a0a0"/>
<rect x="618" y="713" width="3" height="1" fill="#a0a0a0"/>
<rect x="624" y="713" width="3" height="1" fill="#a0a0a0"/>
<rect x="630" y="713" width="3" height="1" fill="#a0a0a0"/>
<rect x="636" y="713" width="3" height="1" fill="#a0a0a0"/>
<rect x="642" y="713" width="3" height="1" fill="#a0a0a0"/>
<rect x="648" y="713" width="3" height="1" fill="#a0a0a0"/>
<rect x="654" y="713" width="3" height="1" fill="#a0a0a0"/>
<rect x="660" y="713" width="3" height="1" fill="#a0a0a0"/>
<rect x="666" y="713" width="3" height="1" fill="#a0a0a0"/>
<rect x="672" y="713" width="3" height="1" fill="#a0a0a0"/>
<rect x="678" y="713" width="3" height="1" fill="#a0a0a0"/>
<rect x="684" y="713" width="3" height="1" fill="#a0a0a0"/>
<rect x="690" y="713" width="3" height="1" fill="#a0a0a0"/>
<rect x="696" y="713" width="3" height="1" fill="#a0a0a0"/>
<rect x="702" y="713" width="3" height="1" fill="#a0a0a0"/>
<rect x="708" y="713" width="3" height="1" fill="#a0a0a0"/>
<rect x="714" y="713" width="3" height="1" fill="#a0a0a0"/>
<rect x="720" y="713" width="3" height="1" fill="#a0a0a0"/>
<rect x="726" y="713" width="3" height="1" fill="#a0a0a0"/>
<rect x="732" y="713" width="3" height="1" fill="#a0a0a0"/>
<rect x="738" y="713" width="3" height="1" fill="#a0a0a0"/>
<rect x="744" y="713" width="3" height="1" fill="#a0a0a0"/>
<rect x="750" y="713" width="3" height="1" fill="#a0a0a0"/>
<rect x="756" y="713" width="3" height="1" fill="#a0a0a0"/>
<rect x="762" y="713" width="3" height="1" fill="#a0a0a0"/>
<rect x="768" y="713" width="3" height="1" fill="#a0a0a0"/>
<rect x="774" y="713" width="3" height="1" fill="#a0a0a0"/>
<rect x="780" y="713" width="3" height="1" fill="#a0a0a0"/>
<rect x="786" y="713" width="3" height="1" fill="#a0a0a0"/>
<rect x="792" y="713" width="3" height="1" fill="#a0a0a0"/>
<rect x="798" y="713" width="3" height="1" fill="#a0a0a0"/>
<rect x="804" y="713" width="3" height="1" fill="#a0a0a0"/>
<rect x="810" y="713" width="3" height="1" fill="#a0a0a0"/>
<rect x="816" y="713" width="3" height="1" fill="#a0a0a0"/>
<rect x="822" y="713" width="3" height="1" fill="#a0a0a0"/>
<rect x="828" y="713" width="3" height="1" fill="#a0a0a0"/>
<rect x="834" y="713" width="3" height="1" fill="#a0a0a0"/>
<rect x="840" y="713" width="3" height="1" fill="#a0a0a0"/>
<rect x="846" y="713" width="3" height="1" fill="#a0a0a0"/>
<rect x="852" y="713" width="3" height="1" fill="#a0a0a0"/>
<rect x="858" y="713" width="3" height="1" fill="#a0a0a0"/>
<rect x="864" y="713" width="3" height="1" fill="#a0a0a0"/>
<rect x="870" y="713" width="3" height="1" fill="#a0a0a0"/>
<rect x="876" y="713" width="3" height="1" fill="#a0a0a0"/>
<rect x="882" y="713" width="3" height="1" fill="#a0a0a0"/>
<rect x="888" y="713" width="3" height="1" fill="#a0a0a0"/>
<rect x="894" y="713" width="3" height="1" fill="#a0a0a0"/>
<rect x="900" y="713" width="3" height="1" fill="#a0a0a0"/>
<rect x="906" y="713" width="3" height="1" fill="#a0a0a0"/>
<rect x="912" y="713" width="3" height="1" fill="#a0a0a0"/>
<rect x="918" y="713" width="3" height="1" fill="#a0a0a0"/>
<rect x="924" y="713" width="3" height="1" fill="#a0a0a0"/>
<rect x="930" y="713" width="3" height="1" fill="#a0a0a0"/>
<rect x="936" y="713" width="3" height="1" fill="#a0a0a0"/>
<rect x="942" y="713" width="3" height="1" fill="#a0a0a0"/>
<rect x="948" y="713" width="3" height="1" fill="#a0a0a0"/>
<rect x="954" y="713" width="3" height="1" fill="#a0a0a0"/>
<rect x="960" y="713" width="3" height="1" fill="#a0a0a0"/>
<rect x="966" y="713" width="3" height="1" fill="#a0a0a0"/>
<rect x="972" y="713" width="3" height="1" fill="#a0a0a0"/>
<rect x="978" y="713" width="3" height="1" fill="#a0a0a0"/>
<rect x="984" y="713" width="3" height="1" fill="#a0a0a0"/>
<rect x="990" y="713" width="3" height="1" fill="#a0a0a0"/>
<rect x="996" y="713" width="3" height="1" fill="#a0a0a0"/>
<rect x="1002" y="713" width="3" height="1" fill="#a0a0a0"/>
<rect x="1008" y="713" width="3" height="1" fill="#a0a0a0"/>
<rect x="1014" y="713" width="3" height="1" fill="#a0a0a0"/>
<rect x="1020" y="713" width="3" height="1" fill="#a0a0a0"/>
<rect x="1026" y="713" width="3" height="1" fill="#a0a0a0"/>
<rect x="1032" y="713" width="3" height="1" fill="#a0a0a0"/>
<rect x="1038" y="713" width="3" height="1" fill="#a0a0a0"/>
<rect x="1044" y="713" width="3" height="1" fill="#a0a0a0"/>
<rect x="1050" y="713" width="3" height="1" fill="#a0a0a0"/>
<rect x="1056" y="713" width="3" height="1" fill="#a0a0a0"/>
<rect x="1062" y="713" width="3" height="1" fill="#a0a0a0"/>
<rect x="1068" y="713" width="3" height="1" fill="#a0a0a0"/>
<rect x="1074" y="713" width="3" height="1" fill="#a0a0a0"/>
<rect x="1080" y="713" width="3" height="1" fill="#a0a0a0"/>
<rect x="1086" y="713" width="3" height="1" fill="#a0a0a0"/>
<rect x="1092" y="713" width="3" height="1" fill="#a0a0a0"/>
<rect x="1098" y="713" width="3" height="1" fill="#a0a0a0"/>
<rect x="1104" y="713" width="3" height="1" fill="#a0a0a0"/>
<rect x="1110" y="713" width="3" height="1" fill="#a0a0a0"/>
<rect x="1116" y="713" width="3" height="1" fill="#a0a0a0"/>
<rect x="1122" y="713" width="3" height="1" fill="#a0a0a0"/>
<rect x="1128" y="713" width="3" height="1" fill="#a0a0a0"/>
<rect x="1134" y="713" width="3" height="1" fill="#a0a0a0"/>
<rect x="1140" y="713" width="3" height="1" fill="#a0a0a0"/>
<rect x="1146" y="713" width="3" height="1" fill="#a0a0a0"/>
<rect x="1152" y="713" width="3" height="1" fill="#a0a0a0"/>
<rect x="1158" y="713" width="3" height="1" fill="#a0a0a0"/>
<rect x="1164" y="713" width="3" height="1" fill="#a0a0a0"/>
<rect x="1170" y="713" width="3" height="1" fill="#a0a0a0"/>
<rect x="1176" y="713" width="3" height="1" fill="#a0a0a0"/>
<rect x="1182" y="713" width="3" height="1" fill="#a0a0a0"/>
<rect x="1188" y="713" width="3" height="1" fill="#a0a0a0"/>
<rect x="1194" y="713" width="3" height="1" fill="#a0a0a0"/>
<rect x="1200" y="713" width="3" height="1" fill="#a0a0a0"/>
<rect x="1206" y="713" width="3" height="1" fill="#a0a0a0"/>
<rect x="1212" y="713" width="3" height="1" fill="#a0a0a0"/>
<rect x="1218" y="713" width="3" height="1" fill="#a0a0a0"/>
<rect x="1224" y="713" width="3" height="1" fill="#a0a0a0"/>
<rect x="1230" y="713" width="3" height="1" fill="#a0a0a0"/>
<rect x="1236" y="713" width="3" height="1" fill="#a0a0a0"/>
<rect x="1242" y="713" width="3" height="1" fill="#a0a0a0"/>
<rect x="1248" y="713" width="3" height="1" fill="#a0a0a0"/>
<rect x="1254" y="713" width="3" height="1" fill="#a0a0a0"/>
<rect x="1260" y="713" width="3" height="1" fill="#a0a0a0"/>
<rect x="1266" y="713" width="3" height="1" fill="#a0a0a0"/>
<rect x="1272" y="713" width="3" height="1" fill="#a0a0a0"/>
<rect x="1278" y="713" width="3" height="1" fill="#a0a0a0"/>
<rect x="1284" y="713" width="3" height="1" fill="#a0a0a0"/>
<rect x="1290" y="713" width="3" height="1" fill="#a0a0a0"/>
<rect x="1296" y="713" width="3" height="1" fill="#a0a0a0"/>
<rect x="1302" y="713" width="3" height="1" fill="#a0a0a0"/>
<rect x="1308" y="713" width="3" height="1" fill="#a0a0a0"/>
<rect x="1314" y="713" width="3" height="1" fill="#a0a0a0"/>
<rect x="1320" y="713" width="3" height="1" fill="#a0a0a0"/>
<rect x="1326" y="713" width="3" height="1" fill="#a0a0a0"/>
<rect x="1332" y="713" width="3" height="1" fill="#a0a0a0"/>
<rect x="1338" y="713" width="3" height="1" fill="#a0a0a0"/>
<rect x="1344" y="713" width="3" height="1" fill="#a0a0a0"/>
<rect x="1350" y="713" width="3" height="1" fill="#a0a0a0"/>
<rect x="1356" y="713" width="3" height="1" fill="#a0a0a0"/>
<rect x="1362" y="713" width="3" height="1" fill="#a0a0a0"/>
<rect x="1368" y="713" width="3" height="1" fill="#a0a0a0"/>
<rect x="1374" y="713" width="3" height="1" fill="#a0a0a0"/>
<rect x="1380" y="713" width="3" height="1" fill="#a0a0a0"/>
<rect x="1386" y="713" width="3" height="1" fill="#a0a0a0"/>
<rect x="1392" y="713" width="3" height="1" fill="#a0a0a0"/>
<rect x="1398" y="713" width="3" height="1" fill="#a0a0a0"/>
<rect x="1404" y="713" width="3" height="1" fill="#a0a0a0"/>
<rect x="1410" y="713" width="3" height="1" fill="#a0a0a0"/>
<rect x="1416" y="713" width="3" height="1" fill="#a0a0a0"/>
<rect x="1422" y="713" width="3" height="1" fill="#a0a0a0"/>
<rect x="1428" y="713" width="3" height="1" fill="#a0a0a0"/>
<rect x="1434" y="713" width="3" height="1" fill="#a0a0a0"/>
<rect x="1440" y="713" width="3" height="1" fill="#a0a0a0"/>
<rect x="1446" y="713" width="3" height="1" fill="#a0a0a0"/>
<rect x="1452" y="713" width="3" height="1" fill="#a0a0a0"/>
<rect x="1458" y="713" width="3" height="1" fill="#a0a0a0"/>
<rect x="1464" y="713" width="3" height="1" fill="#a0a0a0"/>
<rect x="1470" y="713" width="3" height="1" fill="#a0a0a0"/>
<rect x="1476" y="713" width="3" height="1" fill="#a0a0a0"/>
<rect x="1482" y="713" width="3" height="1" fill="#a0a0a0"/>
<rect x="1488" y="713" width="3" height="1" fill="#a0a0a0"/>
<rect x="1494" y="713" width="3" height="1" fill="#a0a0a0"/>
<rect x="1500" y="713" width="3" height="1" fill="#a0a0a0"/>
<rect x="1506" y="713" width="3" height="1" fill="#a0a0a0"/>
<rect x="1512" y="713" width="3" height="1" fill="#a0a0a0"/>
<rect x="1518" y="713" width="3" height="1" fill="#a0a0a0"/>
<rect x="1524" y="713" width="3" height="1" fill="#a0a0a0"/>
<rect x="1530" y="713" width="3" height="1" fill="#a0a0a0"/>
<rect x="1536" y="713" width="3" height="1" fill="#a0a0a0"/>
<rect x="1542" y="713" width="3" height="1" fill="#a0a0a0"/>
<rect x="1548" y="713" width="3" height="1" fill="#a0a0a0"/>
<rect x="1554" y="713" width="3" height="1" fill="#a0a0a0"/>
<rect x="1560" y="713" width="3" height="1" fill="#a0a0a0"/>
<rect x="1566" y="713" width="3" height="1" fill="#a0a0a0"/>
<rect x="1572" y="713" width="3" height="1" fill="#a0a0a0"/>
<rect x="6" y="758" width="3" height="1" fill="#a0a0a0"/>
<rect x="12" y="758" width="3" height="1" fill="#a0a0a0"/>
<rect x="18" y="758" width="3" height="1" fill="#a0a0a0"/>
<rect x="24" y="758" width="3" height="1" fill="#a0a0a0"/>
<rect x="30" y="758" width="3" height="1" fill="#a0a0a0"/>
<rect x="36" y="758" width="3" height="1" fill="#a0a0a0"/>
<rect x="42" y="758" width="3" height="1" fill="#a0a0a0"/>
<rect x="48" y="758" width="3" height="1" fill="#a0a0a0"/>
<rect x="54" y="758" width="3" height="1" fill="#a0a0a0"/>
<rect x="60" y="758" width="3" height="1" fill="#a0a0a0"/>
<rect x="66" y="758" width="3" height="1" fill="#a0a0a0"/>
<rect x="72" y="758" width="3" height="1" fill="#a0a0a0"/>
<rect x="78" y="758" width="3" height="1" fill="#a0a0a0"/>
<rect x="84" y="758" width="3" height="1" fill="#a0a0a0"/>
<rect x="90" y="758" width="3" height="1" fill="#a0a0a0"/>
<rect x="96" y="758" width="3" height="1" fill="#a0a0a0"/>
<rect x="102" y="758" width="3" height="1" fill="#a0a0a0"/>
<rect x="108" y="758" width="3" height="1" fill="#a0a0a0"/>
<rect x="114" y="758" width="3" height="1" fill="#a0a0a0"/>
<rect x="120" y="758" width="3" height="1" fill="#a0a0a0"/>
<rect x="126" y="758" width="3" height="1" fill="#a0a0a0"/>
<rect x="132" y="758" width="3" height="1" fill="#a0a0a0"/>
<rect x="138" y="758" width="3" height="1" fill="#a0a0a0"/>
<rect x="144" y="758" width="3" height="1" fill="#a0a0a0"/>
<rect x="150" y="758" width="3" height="1" fill="#a0a0a0"/>
<rect x="156" y="758" width="3" height="1" fill="#a0a0a0"/>
<rect x="162" y="758" width="3" height="1" fill="#a0a0a0"/>
<rect x="168" y="758" width="3" height="1" fill="#a0a0a0"/>
<rect x="174" y="758" width="3" height="1" fill="#a0a0a0"/>
<rect x="180" y="758" width="3" height="1" fill="#a0a0a0"/>
<rect x="186" y="758" width="3" height="1" fill="#a0a0a0"/>
<rect x="192" y="758" width="3" height="1" fill="#a0a0a0"/>
<rect x="198" y="758" width="3" height="1" fill="#a0a0a0"/>
<rect x="204" y="758" width="3" height="1" fill="#a0a0a0"/>
<rect x="210" y="758" width="3" height="1" fill="#a0a0a0"/>
<rect x="216" y="758" width="3" height="1" fill="#a0a0a0"/>
<rect x="222" y="758" width="3" height="1" fill="#a0a0a0"/>
<rect x="228" y="758" width="3" height="1" fill="#a0a0a0"/>
<rect x="234" y="758" width="3" height="1" fill="#a0a0a0"/>
<rect x="240" y="758" width="3" height="1" fill="#a0a0a0"/>
<rect x="246" y="758" width="3" height="1" fill="#a0a0a0"/>
<rect x="252" y="758" width="3" height="1" fill="#a0a0a0"/>
<rect x="258" y="758" width="3" height="1" fill="#a0a0a0"/>
<rect x="264" y="758" width="3" height="1" fill="#a0a0a0"/>
<rect x="270" y="758" width="3" height="1" fill="#a0a0a0"/>
<rect x="276" y="758" width="3" height="1" fill="#a0a0a0"/>
<rect x="282" y="758" width="3" height="1" fill="#a0a0a0"/>
<rect x="288" y="758" width="3" height="1" fill="#a0a0a0"/>
<rect x="294" y="758" width="3" height="1" fill="#a0a0a0"/>
<rect x="300" y="758" width="3" height="1" fill="#a0a0a0"/>
<rect x="306" y="758" width="3" height="1" fill="#a0a0a0"/>
<rect x="312" y="758" width="3" height="1" fill="#a0a0a0"/>
<rect x="318" y="758" width="3" height="1" fill="#a0a0a0"/>
<rect x="324" y="758" width="3" height="1" fill="#a0a0a0"/>
<rect x="330" y="758" width="3" height="1" fill="#a0a0a0"/>
<rect x="336" y="758" width="3" height="1" fill="#a0a0a0"/>
<rect x="342" y="758" width="3" height="1" fill="#a0a0a0"/>
<rect x="348" y="758" width="3" height="1" fill="#a0a0a0"/>
<rect x="354" y="758" width="3" height="1" fill="#a0a0a0"/>
<rect x="360" y="758" width="3" height="1" fill="#a0a0a0"/>
<rect x="366" y="758" width="3" height="1" fill="#a0a0a0"/>
<rect x="372" y="758" width="3" height="1" fill="#a0a0a0"/>
<rect x="378" y="758" width="3" height="1" fill="#a0a0a0"/>
<rect x="384" y="758" width="3" height="1" fill="#a0a0a0"/>
<rect x="390" y="758" width="3" height="1" fill="#a0a0a0"/>
<rect x="396" y="758" width="3" height="1" fill="#a0a0a0"/>
<rect x="402" y="758" width="3" height="1" fill="#a0a0a0"/>
<rect x="408" y="758" width="3" height="1" fill="#a0a0a0"/>
<rect x="414" y="758" width="3" height="1" fill="#a0a0a0"/>
<rect x="420" y="758" width="3" height="1" fill="#a0a0a0"/>
<rect x="426" y="758" width="3" height="1" fill="#a0a0a0"/>
<rect x="432" y="758" width="3" height="1" fill="#a0a0a0"/>
<rect x="438" y="758" width="3" height="1" fill="#a0a0a0"/>
<rect x="444" y="758" width="3" height="1" fill="#a0a0a0"/>
<rect x="450" y="758" width="3" height="1" fill="#a0a0a0"/>
<rect x="456" y="758" width="3" height="1" fill="#a0a0a0"/>
<rect x="462" y="758" width="3" height="1" fill="#a0a0a0"/>
<rect x="468" y="758" width="3" height="1" fill="#a0a0a0"/>
<rect x="474" y="758" width="3" height="1" fill="#a0a0a0"/>
<rect x="480" y="758" width="3" height="1" fill="#a0a0a0"/>
<rect x="486" y="758" width="3" height="1" fill="#a0a0a0"/>
<rect x="492" y="758" width="3" height="1" fill="#a0a0a0"/>
<rect x="498" y="758" width="3" height="1" fill="#a0a0a0"/>
<rect x="504" y="758" width="3" height="1" fill="#a0a0a0"/>
<rect x="510" y="758" width="3" height="1" fill="#a0a0a0"/>
<rect x="516" y="758" width="3" height="1" fill="#a0a0a0"/>
<rect x="522" y="758" width="3" height="1" fill="#a0a0a0"/>
<rect x="528" y="758" width="3" height="1" fill="#a0a0a0"/>
<rect x="534" y="758" width="3" height="1" fill="#a0a0a0"/>
<rect x="540" y="758" width="3" height="1" fill="#a0a0a0"/>
<rect x="546" y="758" width="3" height="1" fill="#a0a0a0"/>
<rect x="552" y="758" width="3" height="1" fill="#a0a0a0"/>
<rect x="558" y="758" width="3" height="1" fill="#a0a0a0"/>
<rect x="564" y="758" width="3" height="1" fill="#a0a0a0"/>
<rect x="570" y="758" width="3" height="1" fill="#a0a0a0"/>
<rect x="576" y="758" width="3" height="1" fill="#a0a0a0"/>
<rect x="582" y="758" width="3" height="1" fill="#a0a0a0"/>
<rect x="588" y="758" width="3" height="1" fill="#a0a0a0"/>
<rect x="594" y="758" width="3" height="1" fill="#a0a0a0"/>
<rect x="600" y="758" width="3" height="1" fill="#a0a0a0"/>
<rect x="606" y="758" width="3" height="1" fill="#a0a0a0"/>
<rect x="612" y="758" width="3" height="1" fill="#a0a0a0"/>
<rect x="618" y="758" width="3" height="1" fill="#a0a0a0"/>
<rect x="624" y="758" width="3" height="1" fill="#a0a0a0"/>
<rect x="630" y="758" width="3" height="1" fill="#a0a0a0"/>
<rect x="636" y="758" width="3" height="1" fill="#a0a0a0"/>
<rect x="642" y="758" width="3" height="1" fill="#a0a0a0"/>
<rect x="648" y="758" width="3" height="1" fill="#a0a0a0"/>
<rect x="654" y="758" width="3" height="1" fill="#a0a0a0"/>
<rect x="660" y="758" width="3" height="1" fill="#a0a0a0"/>
<rect x="666" y="758" width="3" height="1" fill="#a0a0a0"/>
<rect x="672" y="758" width="3" height="1" fill="#a0a0a0"/>
<rect x="678" y="758" width="3" height="1" fill="#a0a0a0"/>
<rect x="684" y="758" width="3" height="1" fill="#a0a0a0"/>
<rect x="690" y="758" width="3" height="1" fill="#a0a0a0"/>
<rect x="696" y="758" width="3" height="1" fill="#a0a0a0"/>
<rect x="702" y="758" width="3" height="1" fill="#a0a0a0"/>
<rect x="708" y="758" width="3" height="1" fill="#a0a0a0"/>
<rect x="714" y="758" width="3" height="1" fill="#a0a0a0"/>
<rect x="720" y="758" width="3" height="1" fill="#a0a0a0"/>
<rect x="726" y="758" width="3" height="1" fill="#a0a0a0"/>
<rect x="732" y="758" width="3" height="1" fill="#a0a0a0"/>
<rect x="738" y="758" width="3" height="1" fill="#a0a0a0"/>
<rect x="744" y="758" width="3" height="1" fill="#a0a0a0"/>
<rect x="750" y="758" width="3" height="1" fill="#a0a0a0"/>
<rect x="756" y="758" width="3" height="1" fill="#a0a0a0"/>
<rect x="762" y="758" width="3" height="1" fill="#a0a0a0"/>
<rect x="768" y="758" width="3" height="1" fill="#a0a0a0"/>
<rect x="774" y="758" width="3" height="1" fill="#a0a0a0"/>
<rect x="780" y="758" width="3" height="1" fill="#a0a0a0"/>
<rect x="786" y="758" width="3" height="1" fill="#a0a0a0"/>
<rect x="792" y="758" width="3" height="1" fill="#a0a0a0"/>
<rect x="798" y="758" width="3" height="1" fill="#a0a0a0"/>
<rect x="804" y="758" width="3" height="1" fill="#a0a0a0"/>
<rect x="810" y="758" width="3" height="1" fill="#a0a0a0"/>
<rect x="816" y="758" width="3" height="1" fill="#a0a0a0"/>
<rect x="822" y="758" width="3" height="1" fill="#a0a0a0"/>
<rect x="828" y="758" width="3" height="1" fill="#a0a0a0"/>
<rect x="834" y="758" width="3" height="1" fill="#a0a0a0"/>
<rect x="840" y="758" width="3" height="1" fill="#a0a0a0"/>
<rect x="846" y="758" width="3" height="1" fill="#a0a0a0"/>
<rect x="852" y="758" width="3" height="1" fill="#a0a0a0"/>
<rect x="858" y="758" width="3" height="1" fill="#a0a0a0"/>
<rect x="864" y="758" width="3" height="1" fill="#a0a0a0"/>
<rect x="870" y="758" width="3" height="1" fill="#a0a0a0"/>
<rect x="876" y="758" width="3" height="1" fill="#a0a0a0"/>
<rect x="882" y="758" width="3" height="1" fill="#a0a0a0"/>
<rect x="888" y="758" width="3" height="1" fill="#a0a0a0"/>
<rect x="894" y="758" width="3" height="1" fill="#a0a0a0"/>
<rect x="900" y="758" width="3" height="1" fill="#a0a0a0"/>
<rect x="906" y="758" width="3" height="1" fill="#a0a0a0"/>
<rect x="912" y="758" width="3" height="1" fill="#a0a0a0"/>
<rect x="918" y="758" width="3" height="1" fill="#a0a0a0"/>
<rect x="924" y="758" width="3" height="1" fill="#a0a0a0"/>
<rect x="930" y="758" width="3" height="1" fill="#a0a0a0"/>
<rect x="936" y="758" width="3" height="1" fill="#a0a0a0"/>
<rect x="942" y="758" width="3" height="1" fill="#a0a0a0"/>
<rect x="948" y="758" width="3" height="1" fill="#a0a0a0"/>
<rect x="954" y="758" width="3" height="1" fill="#a0a0a0"/>
<rect x="960" y="758" width="3" height="1" fill="#a0a0a0"/>
<rect x="966" y="758" width="3" height="1" fill="#a0a0a0"/>
<rect x="972" y="758" width="3" height="1" fill="#a0a0a0"/>
<rect x="978" y="758" width="3" height="1" fill="#a0a0a0"/>
<rect x="984" y="758" width="3" height="1" fill="#a0a0a0"/>
<rect x="990" y="758" width="3" height="1" fill="#a0a0a0"/>
<rect x="996" y="758" width="3" height="1" fill="#a0a0a0"/>
<rect x="1002" y="758" width="3" height="1" fill="#a0a0a0"/>
<rect x="1008" y="758" width="3" height="1" fill="#a0a0a0"/>
<rect x="1014" y="758" width="3" height="1" fill="#a0a0a0"/>
<rect x="1020" y="758" width="3" height="1" fill="#a0a0a0"/>
<rect x="1026" y="758" width="3" height="1" fill="#a0a0a0"/>
<rect x="1032" y="758" width="3" height="1" fill="#a0a0a0"/>
<rect x="1038" y="758" width="3" height="1" fill="#a0a0a0"/>
<rect x="1044" y="758" width="3" height="1" fill="#a0a0a0"/>
<rect x="1050" y="758" width="3" height="1" fill="#a0a0a0"/>
<rect x="1056" y="758" width="3" height="1" fill="#a0a0a0"/>
<rect x="1062" y="758" width="3" height="1" fill="#a0a0a0"/>
<rect x="1068" y="758" width="3" height="1" fill="#a0a0a0"/>
<rect x="1074" y="758" width="3" height="1" fill="#a0a0a0"/>
<rect x="1080" y="758" width="3" height="1" fill="#a0a0a0"/>
<rect x="1086" y="758" width="3" height="1" fill="#a0a0a0"/>
<rect x="1092" y="758" width="3" height="1" fill="#a0a0a0"/>
<rect x="1098" y="758" width="3" height="1" fill="#a0a0a0"/>
<rect x="1104" y="758" width="3" height="1" fill="#a0a0a0"/>
<rect x="1110" y="758" width="3" height="1" fill="#a0a0a0"/>
<rect x="1116" y="758" width="3" height="1" fill="#a0a0a0"/>
<rect x="1122" y="758" width="3" height="1" fill="#a0a0a0"/>
<rect x="1128" y="758" width="3" height="1" fill="#a0a0a0"/>
<rect x="1134" y="758" width="3" height="1" fill="#a0a0a0"/>
<rect x="1140" y="758" width="3" height="1" fill="#a0a0a0"/>
<rect x="1146" y="758" width="3" height="1" fill="#a0a0a0"/>
<rect x="1152" y="758" width="3" height="1" fill="#a0a0a0"/>
<rect x="1158" y="758" width="3" height="1" fill="#a0a0a0"/>
<rect x="1164" y="758" width="3" height="1" fill="#a0a0a0"/>
<rect x="1170" y="758" width="3" height="1" fill="#a0a0a0"/>
<rect x="1176" y="758" width="3" height="1" fill="#a0a0a0"/>
<rect x="1182" y="758" width="3" height="1" fill="#a0a0a0"/>
<rect x="1188" y="758" width="3" height="1" fill="#a0a0a0"/>
<rect x="1194" y="758" width="3" height="1" fill="#a0a0a0"/>
<rect x="1200" y="758" width="3" height="1" fill="#a0a0a0"/>
<rect x="1206" y="758" width="3" height="1" fill="#a0a0a0"/>
<rect x="1212" y="758" width="3" height="1" fill="#a0a0a0"/>
<rect x="1218" y="758" width="3" height="1" fill="#a0a0a0"/>
<rect x="1224" y="758" width="3" height="1" fill="#a0a0a0"/>
<rect x="1230" y="758" width="3" height="1" fill="#a0a0a0"/>
<rect x="1236" y="758" width="3" height="1" fill="#a0a0a0"/>
<rect x="1242" y="758" width="3" height="1" fill="#a0a0a0"/>
<rect x="1248" y="758" width="3" height="1" fill="#a0a0a0"/>
<rect x="1254" y="758" width="3" height="1" fill="#a0a0a0"/>
<rect x="1260" y="758" width="3" height="1" fill="#a0a0a0"/>
<rect x="1266" y="758" width="3" height="1" fill="#a0a0a0"/>
<rect x="1272" y="758" width="3" height="1" fill="#a0a0a0"/>
<rect x="1278" y="758" width="3" height="1" fill="#a0a0a0"/>
<rect x="1284" y="758" width="3" height="1" fill="#a0a0a0"/>
<rect x="1290" y="758" width="3" height="1" fill="#a0a0a0"/>
<rect x="1296" y="758" width="3" height="1" fill="#a0a0a0"/>
<rect x="1302" y="758" width="3" height="1" fill="#a0a0a0"/>
<rect x="1308" y="758" width="3" height="1" fill="#a0a0a0"/>
<rect x="1314" y="758" width="3" height="1" fill="#a0a0a0"/>
<rect x="1320" y="758" width="3" height="1" fill="#a0a0a0"/>
<rect x="1326" y="758" width="3" height="1" fill="#a0a0a0"/>
<rect x="1332" y="758" width="3" height="1" fill="#a0a0a0"/>
<rect x="1338" y="758" width="3" height="1" fill="#a0a0a0"/>
<rect x="1344" y="758" width="3" height="1" fill="#a0a0a0"/>
<rect x="1350" y="758" width="3" height="1" fill="#a0a0a0"/>
<rect x="1356" y="758" width="3" height="1" fill="#a0a0a0"/>
<rect x="1362" y="758" width="3" height="1" fill="#a0a0a0"/>
<rect x="1368" y="758" width="3" height="1" fill="#a0a0a0"/>
<rect x="1374" y="758" width="3" height="1" fill="#a0a0a0"/>
<rect x="1380" y="758" width="3" height="1" fill="#a0a0a0"/>
<rect x="1386" y="758" width="3" height="1" fill="#a0a0a0"/>
<rect x="1392" y="758" width="3" height="1" fill="#a0a0a0"/>
<rect x="1398" y="758" width="3" height="1" fill="#a0a0a0"/>
<rect x="1404" y="758" width="3" height="1" fill="#a0a0a0"/>
<rect x="1410" y="758" width="3" height="1" fill="#a0a0a0"/>
<rect x="1416" y="758" width="3" height="1" fill="#a0a0a0"/>
<rect x="1422" y="758" width="3" height="1" fill="#a0a0a0"/>
<rect x="1428" y="758" width="3" height="1" fill="#a0a0a0"/>
<rect x="1434" y="758" width="3" height="1" fill="#a0a0a0"/>
<rect x="1440" y="758" width="3" height="1" fill="#a0a0a0"/>
<rect x="1446" y="758" width="3" height="1" fill="#a0a0a0"/>
<rect x="1452" y="758" width="3" height="1" fill="#a0a0a0"/>
<rect x="1458" y="758" width="3" height="1" fill="#a0a0a0"/>
<rect x="1464" y="758" width="3" height="1" fill="#a0a0a0"/>
<rect x="1470" y="758" width="3" height="1" fill="#a0a0a0"/>
<rect x="1476" y="758" width="3" height="1" fill="#a0a0a0"/>
<rect x="1482" y="758" width="3" height="1" fill="#a0a0a0"/>
<rect x="1488" y="758" width="3" height="1" fill="#a0a0a0"/>
<rect x="1494" y="758" width="3" height="1" fill="#a0a0a0"/>
<rect x="1500" y="758" width="3" height="1" fill="#a0a0a0"/>
<rect x="1506" y="758" width="3" height="1" fill="#a0a0a0"/>
<rect x="1512" y="758" width="3" height="1" fill="#a0a0a0"/>
<rect x="1518" y="758" width="3" height="1" fill="#a0a0a0"/>
<rect x="1524" y="758" width="3" height="1" fill="#a0a0a0"/>
<rect x="1530" y="758" width="3" height="1" fill="#a0a0a0"/>
<rect x="1536" y="758" width="3" height="1" fill="#a0a0a0"/>
<rect x="1542" y="758" width="3" height="1" fill="#a0a0a0"/>
<rect x="1548" y="758" width="3" height="1" fill="#a0a0a0"/>
<rect x="1554" y="758" width="3" height="1" fill="#a0a0a0"/>
<rect x="1560" y="758" width="3" height="1" fill="#a0a0a0"/>
<rect x="1566" y="758" width="3" height="1" fill="#a0a0a0"/>
<rect x="1572" y="758" width="3" height="1" fill="#a0a0a0"/>
<polyline points="5.5,706.25 9.5,710 13.5,717 17.5,717 21.5,718 25.5,720 29.5,710 33.5,709 37.5,716.6 41.5,721 45.5,727.5 49.5,728 53.5,727 57.5,722 61.5,721 65.5,706 69.5,704 73.5,710 77.5,708 81.5,721.6 85.5,721 89.5,721 93.5,728 97.5,726 101.5,722 105.5,726 109.5,714 113.5,713 117.5,708 121.5,707 125.5,701.6 129.5,701 133.5,692.6 137.5,692 141.5,687 145.5,686 149.5,697.6 153.5,702 157.5,703.4 161.5,704.4 165.5,703 169.5,707 173.5,706 177.5,706 181.5,694.6 185.5,699.6 189.5,713.6 193.5,720.6 197.5,718.5 201.5,715.6 205.5,715.5 209.5,717.5 213.5,713.5 217.5,713.5 221.5,723 225.5,727 229.5,736 233.5,736 237.5,728 241.5,715.6 245.5,719.5 249.5,717 253.5,705.6 257.5,704 261.5,703 265.5,701.4 269.5,698.6 273.5,698 277.5,693.6 281.5,691.4 285.5,704 289.5,713 293.5,709 297.5,708 301.5,707.6 305.5,709 309.5,714.6 313.5,719 317.5,725.6 321.5,726 325.5,727.6 329.5,730 333.5,742.6 337.5,746 341.5,739.6 345.5,735 349.5,738.6 353.5,741.4 357.5,742 361.5,737 365.5,739.5 369.5,743 373.5,744 377.5,742 381.5,747 385.5,752 389.5,746 393.5,747.5 397.5,733 401.5,731.5 405.5,741.5 409.5,732.5 413.5,736 417.5,736 421.5,737.5 425.5,730 429.5,733 433.5,727.5 437.5,714 441.5,715 445.5,712 449.5,716 453.5,724.6 457.5,723.5 461.5,718 465.5,718 469.5,714 473.5,716.5 477.5,718 481.5,718 485.5,724 489.5,725 493.5,723 497.5,727 501.5,726 505.5,728 509.5,732 513.5,720 517.5,718 521.5,719 525.5,706.6 529.5,707 533.5,701.4 537.5,700 541.5,706.6 545.5,706.6 549.5,706.6 553.5,708.6 557.5,711.6 561.5,709.6 565.5,714 569.5,718 573.5,715.6 577.5,722.6 581.5,739 585.5,739 589.5,739 593.5,738 597.5,730.6 601.5,731 605.5,719.6 609.5,712.6 613.5,711.6 617.5,712.4 621.5,703.6 625.5,704.6 629.5,709.4 633.5,715.6 637.5,728 641.5,723.4 645.5,729 649.5,729.4 653.5,736 657.5,736.4 661.5,739.6 665.5,740.5 669.5,735 673.5,735 677.5,724 681.5,721.4 685.5,716.9 689.5,717.6 693.5,710.4 697.5,709.4 701.5,716.6 705.5,715.6 709.5,720 713.5,718 717.5,699.6 721.5,699 725.5,697.4 729.5,698 733.5,697 737.5,698.6 741.5,703.6 745.5,708 749.5,717.6 753.5,720 757.5,725 761.5,723.4 765.5,723.4 769.5,714 773.5,726.6 777.5,733.5 781.5,735 785.5,737.5 789.5,741.6 793.5,736 797.5,739 801.5,740 805.5,740.6 809.5,746 813.5,746 817.5,743.4 821.5,724.6 825.5,717.6 829.5,711.6 833.5,710.6 837.5,720.6 841.5,719.4 845.5,724 849.5,713 853.5,706 857.5,705 861.5,706 865.5,703.6 869.5,698.6 873.5,694.6 877.5,707 881.5,709 885.5,698.6 889.5,702 893.5,705 897.5,706.4 901.5,701.5 905.5,701.6 909.5,716 913.5,724 917.5,725 921.5,722.6 925.5,731 929.5,731 933.5,732 937.5,733 941.5,735 945.5,739.5 949.5,733.4 953.5,737 957.5,730.6 961.5,732 965.5,745 969.5,746 973.5,735 977.5,731.6 981.5,733.6 985.5,735.6 989.5,736.5 993.5,735.4 997.5,735.4 1001.5,734.4 1005.5,734.4 1009.5,731.6 1013.5,709.4 1017.5,711 1021.5,722 1025.5,728 1029.5,721 1033.5,728 1037.5,734 1041.5,731 1045.5,736 1049.5,734 1053.5,733 1057.5,731.6 1061.5,730.6 1065.5,734.4 1069.5,729 1073.5,724 1077.5,710.6 1081.5,711.5 1085.5,701.6 1089.5,692.6 1093.5,708 1097.5,706.5 1101.5,706.5 1105.5,704 1109.5,698.5 1113.5,704 1117.5,700.6 1121.5,705 1125.5,717 1129.5,718.6 1133.5,714.6 1137.5,716.6 1141.5,716.6 1145.5,711.6 1149.5,713.6 1153.5,716.4 1157.5,713 1161.5,705.6 1165.5,704.6 1169.5,705 1173.5,703.4 1177.5,702.4 1181.5,714 1185.5,715.6 1189.5,715.6 1193.5,712.4 1197.5,711 1201.5,711 1205.5,712 1209.5,712 1213.5,699.4 1217.5,698 1221.5,700 1225.5,703 1229.5,696.4 1233.5,695.4 1237.5,693 1241.5,702 1245.5,697 1249.5,702 1253.5,688.6 1257.5,688.6 1261.5,692.6 1265.5,690.4 1269.5,703 1273.5,706 1277.5,722 1281.5,721 1285.5,719.4 1289.5,722 1293.5,730 1297.5,729.6 1301.5,729.6 1305.5,728 1309.5,714.6 1313.5,713 1317.5,705.6 1321.5,707 1325.5,717 1329.5,719.4 1333.5,717.5 1337.5,719 1341.5,722.5 1345.5,724.4 1349.5,722.4 1353.5,721 1357.5,730.6 1361.5,730.6 1365.5,727 1369.5,725.4 1373.5,726.6 1377.5,717.2" fill="none" stroke="#1e90ff" stroke-width="1" shape-rendering="crispEdges"/>
</svg>
<text x="9" y="661" font-size="9.5" fill="#000" text-anchor="start" letter-spacing="-0.15">RSI(14) 47.7262</text>
</svg>
</body></html>
